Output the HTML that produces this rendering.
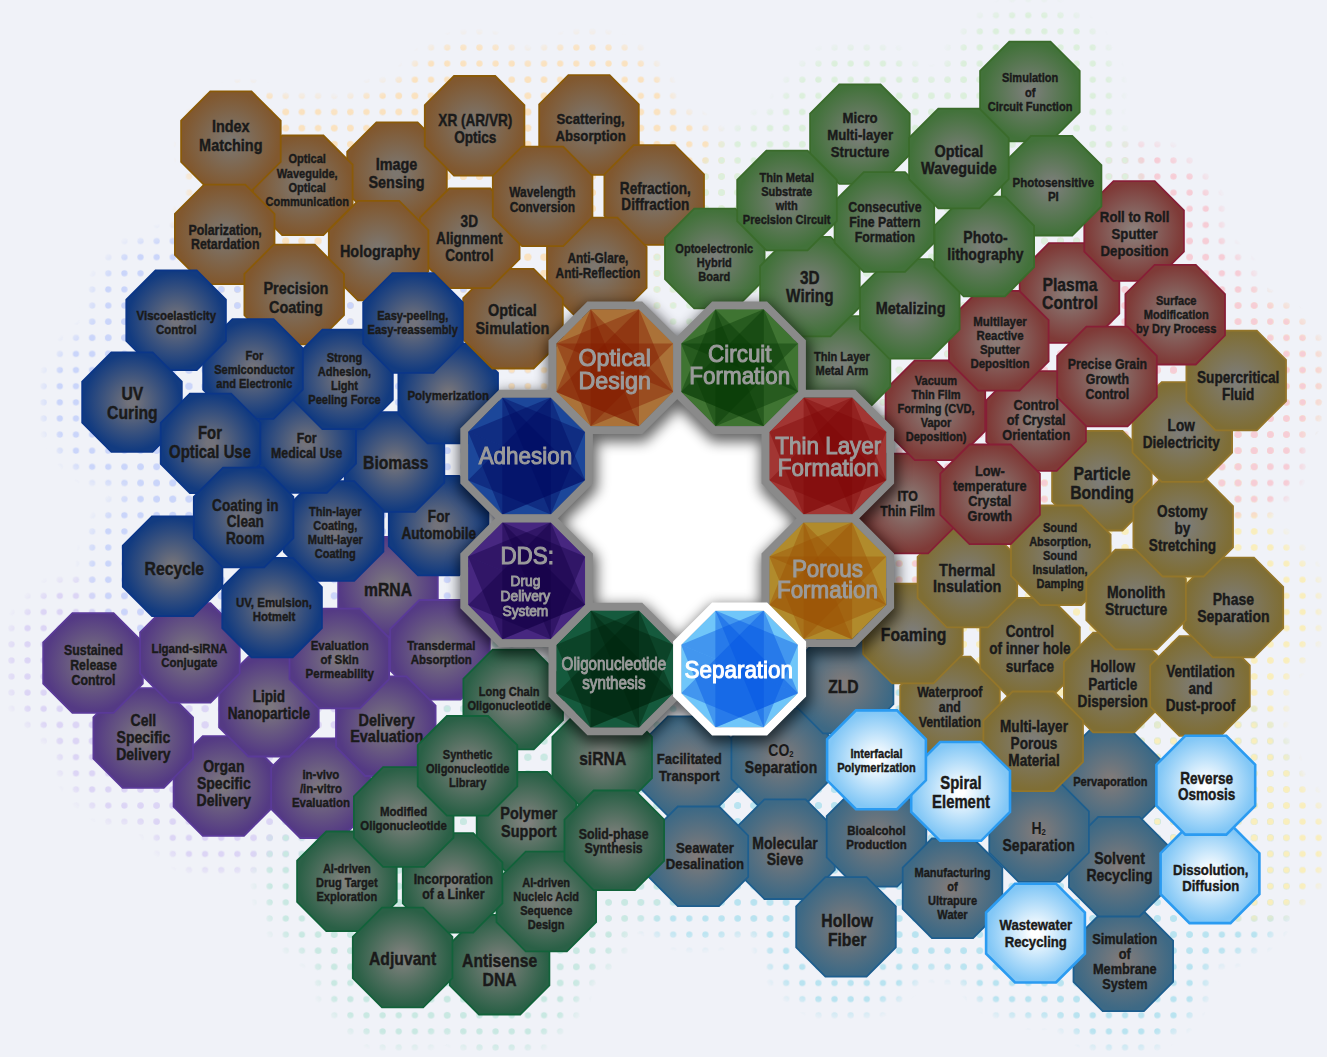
<!DOCTYPE html><html><head><meta charset="utf-8"><title>Technology map</title>
<style>html,body{margin:0;padding:0;background:#f0f2f8;}svg{display:block}text{font-family:"Liberation Sans",sans-serif;font-weight:bold}</style></head><body>
<svg width="1327" height="1057" viewBox="0 0 1327 1057">
<defs>
<radialGradient id="gO" cx="0.5" cy="0.5" r="0.5"><stop offset="0" stop-color="#7c766f"/><stop offset="0.08" stop-color="#7c766f"/><stop offset="0.97" stop-color="#81582f"/><stop offset="1" stop-color="#81582f"/></radialGradient>
<radialGradient id="gG" cx="0.5" cy="0.5" r="0.5"><stop offset="0" stop-color="#7a7e78"/><stop offset="0.08" stop-color="#7a7e78"/><stop offset="0.97" stop-color="#42723a"/><stop offset="1" stop-color="#42723a"/></radialGradient>
<radialGradient id="gR" cx="0.5" cy="0.5" r="0.5"><stop offset="0" stop-color="#8a7d78"/><stop offset="0.08" stop-color="#8a7d78"/><stop offset="0.97" stop-color="#7f3a37"/><stop offset="1" stop-color="#7f3a37"/></radialGradient>
<radialGradient id="gY" cx="0.5" cy="0.5" r="0.5"><stop offset="0" stop-color="#7d7c77"/><stop offset="0.08" stop-color="#7d7c77"/><stop offset="0.97" stop-color="#7f6e35"/><stop offset="1" stop-color="#7f6e35"/></radialGradient>
<radialGradient id="gS" cx="0.5" cy="0.5" r="0.5"><stop offset="0" stop-color="#7e7a7a"/><stop offset="0.08" stop-color="#7e7a7a"/><stop offset="0.97" stop-color="#3d6985"/><stop offset="1" stop-color="#3d6985"/></radialGradient>
<radialGradient id="gD" cx="0.5" cy="0.5" r="0.5"><stop offset="0" stop-color="#7e807c"/><stop offset="0.08" stop-color="#7e807c"/><stop offset="0.97" stop-color="#2a6046"/><stop offset="1" stop-color="#2a6046"/></radialGradient>
<radialGradient id="gP" cx="0.5" cy="0.5" r="0.5"><stop offset="0" stop-color="#7b767e"/><stop offset="0.08" stop-color="#7b767e"/><stop offset="0.97" stop-color="#543a84"/><stop offset="1" stop-color="#543a84"/></radialGradient>
<radialGradient id="gB" cx="0.5" cy="0.5" r="0.5"><stop offset="0" stop-color="#72727a"/><stop offset="0.08" stop-color="#72727a"/><stop offset="0.97" stop-color="#123b80"/><stop offset="1" stop-color="#123b80"/></radialGradient>
<radialGradient id="gH" cx="0.5" cy="0.5" r="0.5"><stop offset="0" stop-color="#ffffff"/><stop offset="0.08" stop-color="#ffffff"/><stop offset="0.97" stop-color="#82c7f6"/><stop offset="1" stop-color="#82c7f6"/></radialGradient>
<filter id="blur40" x="-30%" y="-30%" width="160%" height="160%"><feGaussianBlur stdDeviation="40"/></filter>
<filter id="blur8" x="-30%" y="-30%" width="160%" height="160%"><feGaussianBlur stdDeviation="6.5"/></filter>
<filter id="sh" x="-30%" y="-30%" width="160%" height="160%"><feGaussianBlur stdDeviation="6.5"/></filter>
<pattern id="dO" x="3.33" y="7.13" width="16.14" height="16.13" patternUnits="userSpaceOnUse"><circle cx="8.07" cy="8.06" r="3.1" fill="#fae2c0"/></pattern>
<pattern id="dG" x="3.33" y="7.13" width="16.14" height="16.13" patternUnits="userSpaceOnUse"><circle cx="8.07" cy="8.06" r="3.1" fill="#dcefdc"/></pattern>
<pattern id="dR" x="3.33" y="7.13" width="16.14" height="16.13" patternUnits="userSpaceOnUse"><circle cx="8.07" cy="8.06" r="3.1" fill="#f6cdd6"/></pattern>
<pattern id="dY" x="3.33" y="7.13" width="16.14" height="16.13" patternUnits="userSpaceOnUse"><circle cx="8.07" cy="8.06" r="3.1" fill="#f9eebd"/></pattern>
<pattern id="dS" x="3.33" y="7.13" width="16.14" height="16.13" patternUnits="userSpaceOnUse"><circle cx="8.07" cy="8.06" r="3.1" fill="#b9e3f0"/></pattern>
<pattern id="dD" x="3.33" y="7.13" width="16.14" height="16.13" patternUnits="userSpaceOnUse"><circle cx="8.07" cy="8.06" r="3.1" fill="#c9e8e2"/></pattern>
<pattern id="dP" x="3.33" y="7.13" width="16.14" height="16.13" patternUnits="userSpaceOnUse"><circle cx="8.07" cy="8.06" r="3.1" fill="#dcd5f5"/></pattern>
<pattern id="dB" x="3.33" y="7.13" width="16.14" height="16.13" patternUnits="userSpaceOnUse"><circle cx="8.07" cy="8.06" r="3.1" fill="#cad5fa"/></pattern>
<radialGradient id="halo" cx="0.5" cy="0.5" r="0.5"><stop offset="0.78" stop-color="#fff" stop-opacity="1"/><stop offset="1" stop-color="#fff" stop-opacity="0"/></radialGradient>
<mask id="hm" maskContentUnits="objectBoundingBox" x="0" y="0" width="1" height="1"><rect width="1" height="1" fill="url(#halo)"/></mask>
</defs>
<rect width="1327" height="1057" fill="#f0f2f8"/>
<circle cx="397" cy="172" r="98" fill="url(#dO)" mask="url(#hm)"/>
<circle cx="303" cy="185" r="98" fill="url(#dO)" mask="url(#hm)"/>
<circle cx="245" cy="150" r="72" fill="url(#dO)" mask="url(#hm)"/>
<circle cx="240" cy="232" r="72" fill="url(#dO)" mask="url(#hm)"/>
<circle cx="475" cy="126" r="98" fill="url(#dO)" mask="url(#hm)"/>
<circle cx="589" cy="125" r="98" fill="url(#dO)" mask="url(#hm)"/>
<circle cx="654" cy="195" r="98" fill="url(#dO)" mask="url(#hm)"/>
<circle cx="597" cy="267" r="98" fill="url(#dO)" mask="url(#hm)"/>
<circle cx="715" cy="258" r="98" fill="url(#dG)" mask="url(#hm)"/>
<circle cx="860" cy="134" r="98" fill="url(#dG)" mask="url(#hm)"/>
<circle cx="1030" cy="92" r="98" fill="url(#dG)" mask="url(#hm)"/>
<circle cx="1070" cy="293" r="98" fill="url(#dR)" mask="url(#hm)"/>
<circle cx="1134" cy="231" r="98" fill="url(#dR)" mask="url(#hm)"/>
<circle cx="1052" cy="186" r="98" fill="url(#dG)" mask="url(#hm)"/>
<circle cx="1102" cy="481" r="98" fill="url(#dY)" mask="url(#hm)"/>
<circle cx="1036" cy="421" r="98" fill="url(#dR)" mask="url(#hm)"/>
<circle cx="950" cy="706" r="98" fill="url(#dY)" mask="url(#hm)"/>
<circle cx="1030" cy="648" r="98" fill="url(#dY)" mask="url(#hm)"/>
<circle cx="689" cy="766" r="98" fill="url(#dS)" mask="url(#hm)"/>
<circle cx="781" cy="758" r="98" fill="url(#dS)" mask="url(#hm)"/>
<circle cx="844" cy="684" r="98" fill="url(#dS)" mask="url(#hm)"/>
<circle cx="913" cy="634" r="98" fill="url(#dY)" mask="url(#hm)"/>
<circle cx="967" cy="578" r="98" fill="url(#dY)" mask="url(#hm)"/>
<circle cx="908" cy="504" r="98" fill="url(#dR)" mask="url(#hm)"/>
<circle cx="935" cy="410" r="98" fill="url(#dR)" mask="url(#hm)"/>
<circle cx="840" cy="366" r="98" fill="url(#dG)" mask="url(#hm)"/>
<circle cx="999" cy="341" r="98" fill="url(#dR)" mask="url(#hm)"/>
<circle cx="910" cy="309" r="98" fill="url(#dG)" mask="url(#hm)"/>
<circle cx="810" cy="287" r="98" fill="url(#dG)" mask="url(#hm)"/>
<circle cx="884" cy="222" r="98" fill="url(#dG)" mask="url(#hm)"/>
<circle cx="787" cy="200" r="98" fill="url(#dG)" mask="url(#hm)"/>
<circle cx="984" cy="246" r="98" fill="url(#dG)" mask="url(#hm)"/>
<circle cx="959" cy="158" r="98" fill="url(#dG)" mask="url(#hm)"/>
<circle cx="1061" cy="555" r="98" fill="url(#dY)" mask="url(#hm)"/>
<circle cx="990" cy="494" r="98" fill="url(#dR)" mask="url(#hm)"/>
<circle cx="785" cy="849" r="98" fill="url(#dS)" mask="url(#hm)"/>
<circle cx="698" cy="856" r="98" fill="url(#dS)" mask="url(#hm)"/>
<circle cx="876" cy="837" r="98" fill="url(#dS)" mask="url(#hm)"/>
<circle cx="846" cy="927" r="98" fill="url(#dS)" mask="url(#hm)"/>
<circle cx="952" cy="888" r="98" fill="url(#dS)" mask="url(#hm)"/>
<circle cx="1110" cy="780" r="98" fill="url(#dS)" mask="url(#hm)"/>
<circle cx="1114" cy="682" r="98" fill="url(#dY)" mask="url(#hm)"/>
<circle cx="1200" cy="686" r="98" fill="url(#dY)" mask="url(#hm)"/>
<circle cx="1233" cy="608" r="98" fill="url(#dY)" mask="url(#hm)"/>
<circle cx="1136" cy="600" r="98" fill="url(#dY)" mask="url(#hm)"/>
<circle cx="1183" cy="527" r="98" fill="url(#dY)" mask="url(#hm)"/>
<circle cx="1182" cy="432" r="98" fill="url(#dY)" mask="url(#hm)"/>
<circle cx="1236" cy="380" r="98" fill="url(#dY)" mask="url(#hm)"/>
<circle cx="1175" cy="315" r="98" fill="url(#dR)" mask="url(#hm)"/>
<circle cx="1107" cy="376" r="98" fill="url(#dR)" mask="url(#hm)"/>
<circle cx="1123" cy="961" r="98" fill="url(#dS)" mask="url(#hm)"/>
<circle cx="1119" cy="867" r="98" fill="url(#dS)" mask="url(#hm)"/>
<circle cx="1039" cy="832" r="98" fill="url(#dS)" mask="url(#hm)"/>
<circle cx="1033" cy="741" r="98" fill="url(#dY)" mask="url(#hm)"/>
<circle cx="961" cy="791" r="98" fill="url(#dS)" mask="url(#hm)"/>
<circle cx="876" cy="760" r="98" fill="url(#dS)" mask="url(#hm)"/>
<circle cx="1036" cy="933" r="98" fill="url(#dS)" mask="url(#hm)"/>
<circle cx="1210" cy="874" r="98" fill="url(#dS)" mask="url(#hm)"/>
<circle cx="1206" cy="785" r="98" fill="url(#dS)" mask="url(#hm)"/>
<circle cx="526" cy="822" r="98" fill="url(#dD)" mask="url(#hm)"/>
<circle cx="602" cy="758" r="98" fill="url(#dD)" mask="url(#hm)"/>
<circle cx="500" cy="965" r="98" fill="url(#dD)" mask="url(#hm)"/>
<circle cx="546" cy="902" r="98" fill="url(#dD)" mask="url(#hm)"/>
<circle cx="614" cy="840" r="98" fill="url(#dD)" mask="url(#hm)"/>
<circle cx="453" cy="883" r="98" fill="url(#dD)" mask="url(#hm)"/>
<circle cx="388" cy="587" r="98" fill="url(#dP)" mask="url(#hm)"/>
<circle cx="440" cy="650" r="98" fill="url(#dP)" mask="url(#hm)"/>
<circle cx="513" cy="700" r="98" fill="url(#dD)" mask="url(#hm)"/>
<circle cx="223" cy="786" r="98" fill="url(#dP)" mask="url(#hm)"/>
<circle cx="143" cy="738" r="98" fill="url(#dP)" mask="url(#hm)"/>
<circle cx="93" cy="663" r="98" fill="url(#dP)" mask="url(#hm)"/>
<circle cx="321" cy="788" r="98" fill="url(#dP)" mask="url(#hm)"/>
<circle cx="347" cy="881" r="98" fill="url(#dD)" mask="url(#hm)"/>
<circle cx="403" cy="958" r="98" fill="url(#dD)" mask="url(#hm)"/>
<circle cx="269" cy="707" r="98" fill="url(#dP)" mask="url(#hm)"/>
<circle cx="190" cy="653" r="98" fill="url(#dP)" mask="url(#hm)"/>
<circle cx="386" cy="726" r="98" fill="url(#dP)" mask="url(#hm)"/>
<circle cx="404" cy="817" r="98" fill="url(#dD)" mask="url(#hm)"/>
<circle cx="468" cy="766" r="98" fill="url(#dD)" mask="url(#hm)"/>
<circle cx="339" cy="658" r="98" fill="url(#dP)" mask="url(#hm)"/>
<circle cx="439" cy="526" r="98" fill="url(#dB)" mask="url(#hm)"/>
<circle cx="394" cy="462" r="98" fill="url(#dB)" mask="url(#hm)"/>
<circle cx="448" cy="394" r="98" fill="url(#dB)" mask="url(#hm)"/>
<circle cx="513" cy="319" r="98" fill="url(#dO)" mask="url(#hm)"/>
<circle cx="470" cy="238" r="98" fill="url(#dO)" mask="url(#hm)"/>
<circle cx="379" cy="251" r="98" fill="url(#dO)" mask="url(#hm)"/>
<circle cx="294" cy="294" r="98" fill="url(#dO)" mask="url(#hm)"/>
<circle cx="543" cy="196" r="98" fill="url(#dO)" mask="url(#hm)"/>
<circle cx="334" cy="531" r="98" fill="url(#dB)" mask="url(#hm)"/>
<circle cx="306" cy="443" r="98" fill="url(#dB)" mask="url(#hm)"/>
<circle cx="343" cy="379" r="98" fill="url(#dB)" mask="url(#hm)"/>
<circle cx="253" cy="369" r="98" fill="url(#dB)" mask="url(#hm)"/>
<circle cx="176" cy="320" r="98" fill="url(#dB)" mask="url(#hm)"/>
<circle cx="132" cy="402" r="98" fill="url(#dB)" mask="url(#hm)"/>
<circle cx="413" cy="323" r="98" fill="url(#dB)" mask="url(#hm)"/>
<circle cx="210" cy="443" r="98" fill="url(#dB)" mask="url(#hm)"/>
<circle cx="173" cy="566" r="98" fill="url(#dB)" mask="url(#hm)"/>
<circle cx="272" cy="608" r="98" fill="url(#dB)" mask="url(#hm)"/>
<circle cx="244" cy="518" r="98" fill="url(#dB)" mask="url(#hm)"/>
<circle cx="1210" cy="790" r="98" fill="url(#dY)" mask="url(#hm)"/>
<circle cx="1248" cy="842" r="90" fill="url(#dY)" mask="url(#hm)"/>
<circle cx="1236" cy="380" r="98" fill="url(#dR)" mask="url(#hm)"/>
<circle cx="1190" cy="432" r="98" fill="url(#dR)" mask="url(#hm)"/>
<circle cx="1240" cy="452" r="72" fill="url(#dR)" mask="url(#hm)"/>
<polygon points="376.4,122.4 417.6,122.4 446.8,151.6 446.8,192.8 417.6,222.0 376.4,222.0 347.2,192.8 347.2,151.6" fill="url(#gO)" stroke="#8a5a08" stroke-width="1.8" stroke-linejoin="miter"/>
<text transform="translate(396.5 169.6) scale(0.850 1)" text-anchor="middle" font-size="17.0" fill="#1a1a1a" stroke="#1a1a1a" stroke-width="0.42">Image</text><text transform="translate(396.5 188.4) scale(0.850 1)" text-anchor="middle" font-size="17.0" fill="#1a1a1a" stroke="#1a1a1a" stroke-width="0.42">Sensing</text>
<polygon points="282.2,135.5 323.4,135.5 352.6,164.7 352.6,205.9 323.4,235.1 282.2,235.1 253.0,205.9 253.0,164.7" fill="url(#gO)" stroke="#8a5a08" stroke-width="1.8" stroke-linejoin="miter"/>
<text transform="translate(307.2 163.4) scale(0.850 1)" text-anchor="middle" font-size="13.0" fill="#1a1a1a" stroke="#1a1a1a" stroke-width="0.42">Optical</text><text transform="translate(307.2 177.5) scale(0.850 1)" text-anchor="middle" font-size="13.0" fill="#1a1a1a" stroke="#1a1a1a" stroke-width="0.42">Waveguide,</text><text transform="translate(307.2 191.6) scale(0.850 1)" text-anchor="middle" font-size="13.0" fill="#1a1a1a" stroke="#1a1a1a" stroke-width="0.42">Optical</text><text transform="translate(307.2 205.7) scale(0.850 1)" text-anchor="middle" font-size="13.0" fill="#1a1a1a" stroke="#1a1a1a" stroke-width="0.42">Communication</text>
<polygon points="210.3,91.4 251.5,91.4 280.7,120.6 280.7,161.8 251.5,191.0 210.3,191.0 181.1,161.8 181.1,120.6" fill="url(#gO)" stroke="#8a5a08" stroke-width="1.8" stroke-linejoin="miter"/>
<text transform="translate(230.8 132.1) scale(0.850 1)" text-anchor="middle" font-size="17.0" fill="#1a1a1a" stroke="#1a1a1a" stroke-width="0.42">Index</text><text transform="translate(230.8 150.9) scale(0.850 1)" text-anchor="middle" font-size="17.0" fill="#1a1a1a" stroke="#1a1a1a" stroke-width="0.42">Matching</text>
<polygon points="204.1,184.6 245.3,184.6 274.5,213.8 274.5,255.0 245.3,284.2 204.1,284.2 174.9,255.0 174.9,213.8" fill="url(#gO)" stroke="#8a5a08" stroke-width="1.8" stroke-linejoin="miter"/>
<text transform="translate(225.2 234.9) scale(0.850 1)" text-anchor="middle" font-size="14.5" fill="#1a1a1a" stroke="#1a1a1a" stroke-width="0.42">Polarization,</text><text transform="translate(225.2 249.4) scale(0.850 1)" text-anchor="middle" font-size="14.5" fill="#1a1a1a" stroke="#1a1a1a" stroke-width="0.42">Retardation</text>
<polygon points="454.0,76.0 495.2,76.0 524.4,105.2 524.4,146.4 495.2,175.6 454.0,175.6 424.8,146.4 424.8,105.2" fill="url(#gO)" stroke="#8a5a08" stroke-width="1.8" stroke-linejoin="miter"/>
<text transform="translate(475.3 125.6) scale(0.850 1)" text-anchor="middle" font-size="16.0" fill="#1a1a1a" stroke="#1a1a1a" stroke-width="0.42">XR (AR/VR)</text><text transform="translate(475.3 143.4) scale(0.850 1)" text-anchor="middle" font-size="16.0" fill="#1a1a1a" stroke="#1a1a1a" stroke-width="0.42">Optics</text>
<polygon points="568.4,75.2 609.6,75.2 638.8,104.4 638.8,145.6 609.6,174.8 568.4,174.8 539.2,145.6 539.2,104.4" fill="url(#gO)" stroke="#8a5a08" stroke-width="1.8" stroke-linejoin="miter"/>
<text transform="translate(590.6 124.4) scale(0.850 1)" text-anchor="middle" font-size="15.5" fill="#1a1a1a" stroke="#1a1a1a" stroke-width="0.42">Scattering,</text><text transform="translate(590.6 141.0) scale(0.850 1)" text-anchor="middle" font-size="15.5" fill="#1a1a1a" stroke="#1a1a1a" stroke-width="0.42">Absorption</text>
<polygon points="633.6,145.2 674.8,145.2 704.0,174.4 704.0,215.6 674.8,244.8 633.6,244.8 604.4,215.6 604.4,174.4" fill="url(#gO)" stroke="#8a5a08" stroke-width="1.8" stroke-linejoin="miter"/>
<text transform="translate(655.3 193.5) scale(0.850 1)" text-anchor="middle" font-size="16.0" fill="#1a1a1a" stroke="#1a1a1a" stroke-width="0.42">Refraction,</text><text transform="translate(655.3 210.0) scale(0.850 1)" text-anchor="middle" font-size="16.0" fill="#1a1a1a" stroke="#1a1a1a" stroke-width="0.42">Diffraction</text>
<polygon points="576.2,217.6 617.4,217.6 646.6,246.8 646.6,288.0 617.4,317.2 576.2,317.2 547.0,288.0 547.0,246.8" fill="url(#gO)" stroke="#8a5a08" stroke-width="1.8" stroke-linejoin="miter"/>
<text transform="translate(597.9 263.2) scale(0.850 1)" text-anchor="middle" font-size="14.0" fill="#1a1a1a" stroke="#1a1a1a" stroke-width="0.42">Anti-Glare,</text><text transform="translate(597.9 278.0) scale(0.850 1)" text-anchor="middle" font-size="14.0" fill="#1a1a1a" stroke="#1a1a1a" stroke-width="0.42">Anti-Reflection</text>
<polygon points="694.2,208.7 735.4,208.7 764.6,237.9 764.6,279.1 735.4,308.3 694.2,308.3 665.0,279.1 665.0,237.9" fill="url(#gG)" stroke="#3a6b2b" stroke-width="1.8" stroke-linejoin="miter"/>
<text transform="translate(714.3 252.6) scale(0.850 1)" text-anchor="middle" font-size="13.0" fill="#1a1a1a" stroke="#1a1a1a" stroke-width="0.42">Optoelectronic</text><text transform="translate(714.3 266.7) scale(0.850 1)" text-anchor="middle" font-size="13.0" fill="#1a1a1a" stroke="#1a1a1a" stroke-width="0.42">Hybrid</text><text transform="translate(714.3 280.8) scale(0.850 1)" text-anchor="middle" font-size="13.0" fill="#1a1a1a" stroke="#1a1a1a" stroke-width="0.42">Board</text>
<polygon points="839.3,84.3 880.5,84.3 909.7,113.5 909.7,154.7 880.5,183.9 839.3,183.9 810.1,154.7 810.1,113.5" fill="url(#gG)" stroke="#3a6b2b" stroke-width="1.8" stroke-linejoin="miter"/>
<text transform="translate(860.1 122.5) scale(0.850 1)" text-anchor="middle" font-size="15.5" fill="#1a1a1a" stroke="#1a1a1a" stroke-width="0.42">Micro</text><text transform="translate(860.1 139.7) scale(0.850 1)" text-anchor="middle" font-size="15.5" fill="#1a1a1a" stroke="#1a1a1a" stroke-width="0.42">Multi-layer</text><text transform="translate(860.1 156.9) scale(0.850 1)" text-anchor="middle" font-size="15.5" fill="#1a1a1a" stroke="#1a1a1a" stroke-width="0.42">Structure</text>
<polygon points="1009.3,41.7 1050.5,41.7 1079.7,70.9 1079.7,112.1 1050.5,141.3 1009.3,141.3 980.1,112.1 980.1,70.9" fill="url(#gG)" stroke="#3a6b2b" stroke-width="1.8" stroke-linejoin="miter"/>
<text transform="translate(1030.1 82.4) scale(0.850 1)" text-anchor="middle" font-size="13.0" fill="#1a1a1a" stroke="#1a1a1a" stroke-width="0.42">Simulation</text><text transform="translate(1030.1 96.5) scale(0.850 1)" text-anchor="middle" font-size="13.0" fill="#1a1a1a" stroke="#1a1a1a" stroke-width="0.42">of</text><text transform="translate(1030.1 110.6) scale(0.850 1)" text-anchor="middle" font-size="13.0" fill="#1a1a1a" stroke="#1a1a1a" stroke-width="0.42">Circuit Function</text>
<polygon points="1048.9,243.2 1090.1,243.2 1119.3,272.4 1119.3,313.6 1090.1,342.8 1048.9,342.8 1019.7,313.6 1019.7,272.4" fill="url(#gR)" stroke="#871f36" stroke-width="1.8" stroke-linejoin="miter"/>
<text transform="translate(1070.0 290.8) scale(0.850 1)" text-anchor="middle" font-size="18.5" fill="#1a1a1a" stroke="#1a1a1a" stroke-width="0.42">Plasma</text><text transform="translate(1070.0 309.4) scale(0.850 1)" text-anchor="middle" font-size="18.5" fill="#1a1a1a" stroke="#1a1a1a" stroke-width="0.42">Control</text>
<polygon points="1113.5,181.2 1154.7,181.2 1183.9,210.4 1183.9,251.6 1154.7,280.8 1113.5,280.8 1084.3,251.6 1084.3,210.4" fill="url(#gR)" stroke="#871f36" stroke-width="1.8" stroke-linejoin="miter"/>
<text transform="translate(1134.6 221.6) scale(0.850 1)" text-anchor="middle" font-size="15.5" fill="#1a1a1a" stroke="#1a1a1a" stroke-width="0.42">Roll to Roll</text><text transform="translate(1134.6 238.6) scale(0.850 1)" text-anchor="middle" font-size="15.5" fill="#1a1a1a" stroke="#1a1a1a" stroke-width="0.42">Sputter</text><text transform="translate(1134.6 255.6) scale(0.850 1)" text-anchor="middle" font-size="15.5" fill="#1a1a1a" stroke="#1a1a1a" stroke-width="0.42">Deposition</text>
<polygon points="1031.0,135.9 1072.2,135.9 1101.4,165.1 1101.4,206.3 1072.2,235.5 1031.0,235.5 1001.8,206.3 1001.8,165.1" fill="url(#gG)" stroke="#3a6b2b" stroke-width="1.8" stroke-linejoin="miter"/>
<text transform="translate(1053.3 186.9) scale(0.850 1)" text-anchor="middle" font-size="13.5" fill="#1a1a1a" stroke="#1a1a1a" stroke-width="0.42">Photosensitive</text><text transform="translate(1053.3 200.5) scale(0.850 1)" text-anchor="middle" font-size="13.5" fill="#1a1a1a" stroke="#1a1a1a" stroke-width="0.42">PI</text>
<polygon points="1081.3,430.9 1122.5,430.9 1151.7,460.1 1151.7,501.3 1122.5,530.5 1081.3,530.5 1052.1,501.3 1052.1,460.1" fill="url(#gY)" stroke="#94762a" stroke-width="1.8" stroke-linejoin="miter"/>
<text transform="translate(1102.0 479.9) scale(0.850 1)" text-anchor="middle" font-size="18.5" fill="#1a1a1a" stroke="#1a1a1a" stroke-width="0.42">Particle</text><text transform="translate(1102.0 498.5) scale(0.850 1)" text-anchor="middle" font-size="18.5" fill="#1a1a1a" stroke="#1a1a1a" stroke-width="0.42">Bonding</text>
<polygon points="1015.5,371.2 1056.7,371.2 1085.9,400.4 1085.9,441.6 1056.7,470.8 1015.5,470.8 986.3,441.6 986.3,400.4" fill="url(#gR)" stroke="#871f36" stroke-width="1.8" stroke-linejoin="miter"/>
<text transform="translate(1036.2 409.8) scale(0.850 1)" text-anchor="middle" font-size="15.0" fill="#1a1a1a" stroke="#1a1a1a" stroke-width="0.42">Control</text><text transform="translate(1036.2 424.9) scale(0.850 1)" text-anchor="middle" font-size="15.0" fill="#1a1a1a" stroke="#1a1a1a" stroke-width="0.42">of Crystal</text><text transform="translate(1036.2 440.0) scale(0.850 1)" text-anchor="middle" font-size="15.0" fill="#1a1a1a" stroke="#1a1a1a" stroke-width="0.42">Orientation</text>
<polygon points="929.4,656.7 970.6,656.7 999.8,685.9 999.8,727.1 970.6,756.3 929.4,756.3 900.2,727.1 900.2,685.9" fill="url(#gY)" stroke="#94762a" stroke-width="1.8" stroke-linejoin="miter"/>
<text transform="translate(949.8 696.6) scale(0.850 1)" text-anchor="middle" font-size="14.5" fill="#1a1a1a" stroke="#1a1a1a" stroke-width="0.42">Waterproof</text><text transform="translate(949.8 711.6) scale(0.850 1)" text-anchor="middle" font-size="14.5" fill="#1a1a1a" stroke="#1a1a1a" stroke-width="0.42">and</text><text transform="translate(949.8 726.6) scale(0.850 1)" text-anchor="middle" font-size="14.5" fill="#1a1a1a" stroke="#1a1a1a" stroke-width="0.42">Ventilation</text>
<polygon points="1009.4,598.0 1050.6,598.0 1079.8,627.2 1079.8,668.4 1050.6,697.6 1009.4,697.6 980.2,668.4 980.2,627.2" fill="url(#gY)" stroke="#94762a" stroke-width="1.8" stroke-linejoin="miter"/>
<text transform="translate(1029.9 637.1) scale(0.850 1)" text-anchor="middle" font-size="16.0" fill="#1a1a1a" stroke="#1a1a1a" stroke-width="0.42">Control</text><text transform="translate(1029.9 654.3) scale(0.850 1)" text-anchor="middle" font-size="16.0" fill="#1a1a1a" stroke="#1a1a1a" stroke-width="0.42">of inner hole</text><text transform="translate(1029.9 671.5) scale(0.850 1)" text-anchor="middle" font-size="16.0" fill="#1a1a1a" stroke="#1a1a1a" stroke-width="0.42">surface</text>
<polygon points="668.0,716.3 709.2,716.3 738.4,745.5 738.4,786.7 709.2,815.9 668.0,815.9 638.8,786.7 638.8,745.5" fill="url(#gS)" stroke="#1e5e8e" stroke-width="1.8" stroke-linejoin="miter"/>
<text transform="translate(689.3 764.1) scale(0.850 1)" text-anchor="middle" font-size="15.5" fill="#1a1a1a" stroke="#1a1a1a" stroke-width="0.42">Facilitated</text><text transform="translate(689.3 780.7) scale(0.850 1)" text-anchor="middle" font-size="15.5" fill="#1a1a1a" stroke="#1a1a1a" stroke-width="0.42">Transport</text>
<polygon points="760.6,708.4 801.8,708.4 831.0,737.6 831.0,778.8 801.8,808.0 760.6,808.0 731.4,778.8 731.4,737.6" fill="url(#gS)" stroke="#1e5e8e" stroke-width="1.8" stroke-linejoin="miter"/>
<text transform="translate(781.0 756.1) scale(0.850 1)" text-anchor="middle" font-size="16.5" fill="#1a1a1a">CO<tspan font-size="9.1" dy="1">2</tspan></text><text transform="translate(781.0 772.9) scale(0.850 1)" text-anchor="middle" font-size="16.5" fill="#1a1a1a" stroke="#1a1a1a" stroke-width="0.42">Separation</text>
<polygon points="823.0,633.8 864.2,633.8 893.4,663.0 893.4,704.2 864.2,733.4 823.0,733.4 793.8,704.2 793.8,663.0" fill="url(#gS)" stroke="#1e5e8e" stroke-width="1.8" stroke-linejoin="miter"/>
<text transform="translate(843.4 692.8) scale(0.850 1)" text-anchor="middle" font-size="18.5" fill="#1a1a1a" stroke="#1a1a1a" stroke-width="0.42">ZLD</text>
<polygon points="892.3,583.7 933.5,583.7 962.7,612.9 962.7,654.1 933.5,683.3 892.3,683.3 863.1,654.1 863.1,612.9" fill="url(#gY)" stroke="#94762a" stroke-width="1.8" stroke-linejoin="miter"/>
<text transform="translate(913.6 640.7) scale(0.850 1)" text-anchor="middle" font-size="18.5" fill="#1a1a1a" stroke="#1a1a1a" stroke-width="0.42">Foaming</text>
<polygon points="946.8,527.7 988.0,527.7 1017.2,556.9 1017.2,598.1 988.0,627.3 946.8,627.3 917.6,598.1 917.6,556.9" fill="url(#gY)" stroke="#94762a" stroke-width="1.8" stroke-linejoin="miter"/>
<text transform="translate(967.2 575.5) scale(0.850 1)" text-anchor="middle" font-size="17.0" fill="#1a1a1a" stroke="#1a1a1a" stroke-width="0.42">Thermal</text><text transform="translate(967.2 592.4) scale(0.850 1)" text-anchor="middle" font-size="17.0" fill="#1a1a1a" stroke="#1a1a1a" stroke-width="0.42">Insulation</text>
<polygon points="886.9,453.7 928.1,453.7 957.3,482.9 957.3,524.1 928.1,553.3 886.9,553.3 857.7,524.1 857.7,482.9" fill="url(#gR)" stroke="#871f36" stroke-width="1.8" stroke-linejoin="miter"/>
<text transform="translate(907.6 501.1) scale(0.850 1)" text-anchor="middle" font-size="14.5" fill="#1a1a1a" stroke="#1a1a1a" stroke-width="0.42">ITO</text><text transform="translate(907.6 516.1) scale(0.850 1)" text-anchor="middle" font-size="14.5" fill="#1a1a1a" stroke="#1a1a1a" stroke-width="0.42">Thin Film</text>
<polygon points="914.8,360.5 956.0,360.5 985.2,389.7 985.2,430.9 956.0,460.1 914.8,460.1 885.6,430.9 885.6,389.7" fill="url(#gR)" stroke="#871f36" stroke-width="1.8" stroke-linejoin="miter"/>
<text transform="translate(936.0 385.4) scale(0.850 1)" text-anchor="middle" font-size="13.0" fill="#1a1a1a" stroke="#1a1a1a" stroke-width="0.42">Vacuum</text><text transform="translate(936.0 399.4) scale(0.850 1)" text-anchor="middle" font-size="13.0" fill="#1a1a1a" stroke="#1a1a1a" stroke-width="0.42">Thin Film</text><text transform="translate(936.0 413.4) scale(0.850 1)" text-anchor="middle" font-size="13.0" fill="#1a1a1a" stroke="#1a1a1a" stroke-width="0.42">Forming (CVD,</text><text transform="translate(936.0 427.4) scale(0.850 1)" text-anchor="middle" font-size="13.0" fill="#1a1a1a" stroke="#1a1a1a" stroke-width="0.42">Vapor</text><text transform="translate(936.0 441.4) scale(0.850 1)" text-anchor="middle" font-size="13.0" fill="#1a1a1a" stroke="#1a1a1a" stroke-width="0.42">Deposition)</text>
<polygon points="819.9,316.2 861.1,316.2 890.3,345.4 890.3,386.6 861.1,415.8 819.9,415.8 790.7,386.6 790.7,345.4" fill="url(#gG)" stroke="#3a6b2b" stroke-width="1.8" stroke-linejoin="miter"/>
<text transform="translate(841.9 360.9) scale(0.850 1)" text-anchor="middle" font-size="13.0" fill="#1a1a1a" stroke="#1a1a1a" stroke-width="0.42">Thin Layer</text><text transform="translate(841.9 374.7) scale(0.850 1)" text-anchor="middle" font-size="13.0" fill="#1a1a1a" stroke="#1a1a1a" stroke-width="0.42">Metal Arm</text>
<polygon points="978.2,291.0 1019.4,291.0 1048.6,320.2 1048.6,361.4 1019.4,390.6 978.2,390.6 949.0,361.4 949.0,320.2" fill="url(#gR)" stroke="#871f36" stroke-width="1.8" stroke-linejoin="miter"/>
<text transform="translate(1000.0 325.9) scale(0.850 1)" text-anchor="middle" font-size="13.5" fill="#1a1a1a" stroke="#1a1a1a" stroke-width="0.42">Multilayer</text><text transform="translate(1000.0 340.0) scale(0.850 1)" text-anchor="middle" font-size="13.5" fill="#1a1a1a" stroke="#1a1a1a" stroke-width="0.42">Reactive</text><text transform="translate(1000.0 354.1) scale(0.850 1)" text-anchor="middle" font-size="13.5" fill="#1a1a1a" stroke="#1a1a1a" stroke-width="0.42">Sputter</text><text transform="translate(1000.0 368.2) scale(0.850 1)" text-anchor="middle" font-size="13.5" fill="#1a1a1a" stroke="#1a1a1a" stroke-width="0.42">Deposition</text>
<polygon points="889.2,259.1 930.4,259.1 959.6,288.3 959.6,329.5 930.4,358.7 889.2,358.7 860.0,329.5 860.0,288.3" fill="url(#gG)" stroke="#3a6b2b" stroke-width="1.8" stroke-linejoin="miter"/>
<text transform="translate(910.6 314.3) scale(0.850 1)" text-anchor="middle" font-size="17.0" fill="#1a1a1a" stroke="#1a1a1a" stroke-width="0.42">Metalizing</text>
<polygon points="789.3,236.8 830.5,236.8 859.7,266.0 859.7,307.2 830.5,336.4 789.3,336.4 760.1,307.2 760.1,266.0" fill="url(#gG)" stroke="#3a6b2b" stroke-width="1.8" stroke-linejoin="miter"/>
<text transform="translate(809.8 283.5) scale(0.850 1)" text-anchor="middle" font-size="18.0" fill="#1a1a1a" stroke="#1a1a1a" stroke-width="0.42">3D</text><text transform="translate(809.8 302.0) scale(0.850 1)" text-anchor="middle" font-size="18.0" fill="#1a1a1a" stroke="#1a1a1a" stroke-width="0.42">Wiring</text>
<polygon points="863.8,172.2 905.0,172.2 934.2,201.4 934.2,242.6 905.0,271.8 863.8,271.8 834.6,242.6 834.6,201.4" fill="url(#gG)" stroke="#3a6b2b" stroke-width="1.8" stroke-linejoin="miter"/>
<text transform="translate(884.9 212.1) scale(0.850 1)" text-anchor="middle" font-size="14.5" fill="#1a1a1a" stroke="#1a1a1a" stroke-width="0.42">Consecutive</text><text transform="translate(884.9 227.2) scale(0.850 1)" text-anchor="middle" font-size="14.5" fill="#1a1a1a" stroke="#1a1a1a" stroke-width="0.42">Fine Pattern</text><text transform="translate(884.9 242.3) scale(0.850 1)" text-anchor="middle" font-size="14.5" fill="#1a1a1a" stroke="#1a1a1a" stroke-width="0.42">Formation</text>
<polygon points="766.4,150.7 807.6,150.7 836.8,179.9 836.8,221.1 807.6,250.3 766.4,250.3 737.2,221.1 737.2,179.9" fill="url(#gG)" stroke="#3a6b2b" stroke-width="1.8" stroke-linejoin="miter"/>
<text transform="translate(786.7 181.9) scale(0.850 1)" text-anchor="middle" font-size="13.0" fill="#1a1a1a" stroke="#1a1a1a" stroke-width="0.42">Thin Metal</text><text transform="translate(786.7 196.0) scale(0.850 1)" text-anchor="middle" font-size="13.0" fill="#1a1a1a" stroke="#1a1a1a" stroke-width="0.42">Substrate</text><text transform="translate(786.7 210.1) scale(0.850 1)" text-anchor="middle" font-size="13.0" fill="#1a1a1a" stroke="#1a1a1a" stroke-width="0.42">with</text><text transform="translate(786.7 224.2) scale(0.850 1)" text-anchor="middle" font-size="13.0" fill="#1a1a1a" stroke="#1a1a1a" stroke-width="0.42">Precision Circuit</text>
<polygon points="963.7,196.7 1004.9,196.7 1034.1,225.9 1034.1,267.1 1004.9,296.3 963.7,296.3 934.5,267.1 934.5,225.9" fill="url(#gG)" stroke="#3a6b2b" stroke-width="1.8" stroke-linejoin="miter"/>
<text transform="translate(985.5 242.6) scale(0.850 1)" text-anchor="middle" font-size="16.5" fill="#1a1a1a" stroke="#1a1a1a" stroke-width="0.42">Photo-</text><text transform="translate(985.5 259.5) scale(0.850 1)" text-anchor="middle" font-size="16.5" fill="#1a1a1a" stroke="#1a1a1a" stroke-width="0.42">lithography</text>
<polygon points="938.3,108.7 979.5,108.7 1008.7,137.9 1008.7,179.1 979.5,208.3 938.3,208.3 909.1,179.1 909.1,137.9" fill="url(#gG)" stroke="#3a6b2b" stroke-width="1.8" stroke-linejoin="miter"/>
<text transform="translate(958.9 156.8) scale(0.850 1)" text-anchor="middle" font-size="17.0" fill="#1a1a1a" stroke="#1a1a1a" stroke-width="0.42">Optical</text><text transform="translate(958.9 173.6) scale(0.850 1)" text-anchor="middle" font-size="17.0" fill="#1a1a1a" stroke="#1a1a1a" stroke-width="0.42">Waveguide</text>
<polygon points="1040.2,505.5 1081.4,505.5 1110.6,534.7 1110.6,575.9 1081.4,605.1 1040.2,605.1 1011.0,575.9 1011.0,534.7" fill="url(#gY)" stroke="#94762a" stroke-width="1.8" stroke-linejoin="miter"/>
<text transform="translate(1060.1 531.7) scale(0.850 1)" text-anchor="middle" font-size="13.0" fill="#1a1a1a" stroke="#1a1a1a" stroke-width="0.42">Sound</text><text transform="translate(1060.1 545.9) scale(0.850 1)" text-anchor="middle" font-size="13.0" fill="#1a1a1a" stroke="#1a1a1a" stroke-width="0.42">Absorption,</text><text transform="translate(1060.1 560.0) scale(0.850 1)" text-anchor="middle" font-size="13.0" fill="#1a1a1a" stroke="#1a1a1a" stroke-width="0.42">Sound</text><text transform="translate(1060.1 574.2) scale(0.850 1)" text-anchor="middle" font-size="13.0" fill="#1a1a1a" stroke="#1a1a1a" stroke-width="0.42">Insulation,</text><text transform="translate(1060.1 588.3) scale(0.850 1)" text-anchor="middle" font-size="13.0" fill="#1a1a1a" stroke="#1a1a1a" stroke-width="0.42">Damping</text>
<polygon points="969.5,444.5 1010.7,444.5 1039.9,473.7 1039.9,514.9 1010.7,544.1 969.5,544.1 940.3,514.9 940.3,473.7" fill="url(#gR)" stroke="#871f36" stroke-width="1.8" stroke-linejoin="miter"/>
<text transform="translate(989.8 476.0) scale(0.850 1)" text-anchor="middle" font-size="15.0" fill="#1a1a1a" stroke="#1a1a1a" stroke-width="0.42">Low-</text><text transform="translate(989.8 490.9) scale(0.850 1)" text-anchor="middle" font-size="15.0" fill="#1a1a1a" stroke="#1a1a1a" stroke-width="0.42">temperature</text><text transform="translate(989.8 505.8) scale(0.850 1)" text-anchor="middle" font-size="15.0" fill="#1a1a1a" stroke="#1a1a1a" stroke-width="0.42">Crystal</text><text transform="translate(989.8 520.7) scale(0.850 1)" text-anchor="middle" font-size="15.0" fill="#1a1a1a" stroke="#1a1a1a" stroke-width="0.42">Growth</text>
<polygon points="764.4,799.4 805.6,799.4 834.8,828.6 834.8,869.8 805.6,899.0 764.4,899.0 735.2,869.8 735.2,828.6" fill="url(#gS)" stroke="#1e5e8e" stroke-width="1.8" stroke-linejoin="miter"/>
<text transform="translate(785.0 848.7) scale(0.850 1)" text-anchor="middle" font-size="16.5" fill="#1a1a1a" stroke="#1a1a1a" stroke-width="0.42">Molecular</text><text transform="translate(785.0 865.1) scale(0.850 1)" text-anchor="middle" font-size="16.5" fill="#1a1a1a" stroke="#1a1a1a" stroke-width="0.42">Sieve</text>
<polygon points="677.8,806.5 719.0,806.5 748.2,835.7 748.2,876.9 719.0,906.1 677.8,906.1 648.6,876.9 648.6,835.7" fill="url(#gS)" stroke="#1e5e8e" stroke-width="1.8" stroke-linejoin="miter"/>
<text transform="translate(705.0 852.8) scale(0.850 1)" text-anchor="middle" font-size="15.5" fill="#1a1a1a" stroke="#1a1a1a" stroke-width="0.42">Seawater</text><text transform="translate(705.0 869.4) scale(0.850 1)" text-anchor="middle" font-size="15.5" fill="#1a1a1a" stroke="#1a1a1a" stroke-width="0.42">Desalination</text>
<polygon points="855.9,787.0 897.1,787.0 926.3,816.2 926.3,857.4 897.1,886.6 855.9,886.6 826.7,857.4 826.7,816.2" fill="url(#gS)" stroke="#1e5e8e" stroke-width="1.8" stroke-linejoin="miter"/>
<text transform="translate(876.5 835.3) scale(0.850 1)" text-anchor="middle" font-size="13.5" fill="#1a1a1a" stroke="#1a1a1a" stroke-width="0.42">Bioalcohol</text><text transform="translate(876.5 849.3) scale(0.850 1)" text-anchor="middle" font-size="13.5" fill="#1a1a1a" stroke="#1a1a1a" stroke-width="0.42">Production</text>
<polygon points="825.4,877.1 866.6,877.1 895.8,906.3 895.8,947.5 866.6,976.7 825.4,976.7 796.2,947.5 796.2,906.3" fill="url(#gS)" stroke="#1e5e8e" stroke-width="1.8" stroke-linejoin="miter"/>
<text transform="translate(847.1 927.0) scale(0.850 1)" text-anchor="middle" font-size="18.5" fill="#1a1a1a" stroke="#1a1a1a" stroke-width="0.42">Hollow</text><text transform="translate(847.1 946.3) scale(0.850 1)" text-anchor="middle" font-size="18.5" fill="#1a1a1a" stroke="#1a1a1a" stroke-width="0.42">Fiber</text>
<polygon points="931.9,838.5 973.1,838.5 1002.3,867.7 1002.3,908.9 973.1,938.1 931.9,938.1 902.7,908.9 902.7,867.7" fill="url(#gS)" stroke="#1e5e8e" stroke-width="1.8" stroke-linejoin="miter"/>
<text transform="translate(952.5 877.0) scale(0.850 1)" text-anchor="middle" font-size="13.0" fill="#1a1a1a" stroke="#1a1a1a" stroke-width="0.42">Manufacturing</text><text transform="translate(952.5 891.0) scale(0.850 1)" text-anchor="middle" font-size="13.0" fill="#1a1a1a" stroke="#1a1a1a" stroke-width="0.42">of</text><text transform="translate(952.5 905.0) scale(0.850 1)" text-anchor="middle" font-size="13.0" fill="#1a1a1a" stroke="#1a1a1a" stroke-width="0.42">Ultrapure</text><text transform="translate(952.5 919.0) scale(0.850 1)" text-anchor="middle" font-size="13.0" fill="#1a1a1a" stroke="#1a1a1a" stroke-width="0.42">Water</text>
<polygon points="1089.8,730.2 1131.0,730.2 1160.2,759.4 1160.2,800.6 1131.0,829.8 1089.8,829.8 1060.6,800.6 1060.6,759.4" fill="url(#gS)" stroke="#1e5e8e" stroke-width="1.8" stroke-linejoin="miter"/>
<text transform="translate(1110.3 785.6) scale(0.850 1)" text-anchor="middle" font-size="13.0" fill="#1a1a1a" stroke="#1a1a1a" stroke-width="0.42">Pervaporation</text>
<polygon points="1093.1,632.7 1134.3,632.7 1163.5,661.9 1163.5,703.1 1134.3,732.3 1093.1,732.3 1063.9,703.1 1063.9,661.9" fill="url(#gY)" stroke="#94762a" stroke-width="1.8" stroke-linejoin="miter"/>
<text transform="translate(1112.7 672.4) scale(0.850 1)" text-anchor="middle" font-size="16.0" fill="#1a1a1a" stroke="#1a1a1a" stroke-width="0.42">Hollow</text><text transform="translate(1112.7 689.5) scale(0.850 1)" text-anchor="middle" font-size="16.0" fill="#1a1a1a" stroke="#1a1a1a" stroke-width="0.42">Particle</text><text transform="translate(1112.7 706.6) scale(0.850 1)" text-anchor="middle" font-size="16.0" fill="#1a1a1a" stroke="#1a1a1a" stroke-width="0.42">Dispersion</text>
<polygon points="1179.4,636.2 1220.6,636.2 1249.8,665.4 1249.8,706.6 1220.6,735.8 1179.4,735.8 1150.2,706.6 1150.2,665.4" fill="url(#gY)" stroke="#94762a" stroke-width="1.8" stroke-linejoin="miter"/>
<text transform="translate(1200.5 676.7) scale(0.850 1)" text-anchor="middle" font-size="16.0" fill="#1a1a1a" stroke="#1a1a1a" stroke-width="0.42">Ventilation</text><text transform="translate(1200.5 693.6) scale(0.850 1)" text-anchor="middle" font-size="16.0" fill="#1a1a1a" stroke="#1a1a1a" stroke-width="0.42">and</text><text transform="translate(1200.5 710.5) scale(0.850 1)" text-anchor="middle" font-size="16.0" fill="#1a1a1a" stroke="#1a1a1a" stroke-width="0.42">Dust-proof</text>
<polygon points="1212.8,557.7 1254.0,557.7 1283.2,586.9 1283.2,628.1 1254.0,657.3 1212.8,657.3 1183.6,628.1 1183.6,586.9" fill="url(#gY)" stroke="#94762a" stroke-width="1.8" stroke-linejoin="miter"/>
<text transform="translate(1233.4 605.4) scale(0.850 1)" text-anchor="middle" font-size="16.5" fill="#1a1a1a" stroke="#1a1a1a" stroke-width="0.42">Phase</text><text transform="translate(1233.4 622.3) scale(0.850 1)" text-anchor="middle" font-size="16.5" fill="#1a1a1a" stroke="#1a1a1a" stroke-width="0.42">Separation</text>
<polygon points="1115.5,549.7 1156.7,549.7 1185.9,578.9 1185.9,620.1 1156.7,649.3 1115.5,649.3 1086.3,620.1 1086.3,578.9" fill="url(#gY)" stroke="#94762a" stroke-width="1.8" stroke-linejoin="miter"/>
<text transform="translate(1136.1 597.6) scale(0.850 1)" text-anchor="middle" font-size="16.5" fill="#1a1a1a" stroke="#1a1a1a" stroke-width="0.42">Monolith</text><text transform="translate(1136.1 614.7) scale(0.850 1)" text-anchor="middle" font-size="16.5" fill="#1a1a1a" stroke="#1a1a1a" stroke-width="0.42">Structure</text>
<polygon points="1162.6,476.9 1203.8,476.9 1233.0,506.1 1233.0,547.3 1203.8,576.5 1162.6,576.5 1133.4,547.3 1133.4,506.1" fill="url(#gY)" stroke="#94762a" stroke-width="1.8" stroke-linejoin="miter"/>
<text transform="translate(1182.4 517.4) scale(0.850 1)" text-anchor="middle" font-size="16.0" fill="#1a1a1a" stroke="#1a1a1a" stroke-width="0.42">Ostomy</text><text transform="translate(1182.4 534.3) scale(0.850 1)" text-anchor="middle" font-size="16.0" fill="#1a1a1a" stroke="#1a1a1a" stroke-width="0.42">by</text><text transform="translate(1182.4 551.2) scale(0.850 1)" text-anchor="middle" font-size="16.0" fill="#1a1a1a" stroke="#1a1a1a" stroke-width="0.42">Stretching</text>
<polygon points="1161.7,382.2 1202.9,382.2 1232.1,411.4 1232.1,452.6 1202.9,481.8 1161.7,481.8 1132.5,452.6 1132.5,411.4" fill="url(#gY)" stroke="#94762a" stroke-width="1.8" stroke-linejoin="miter"/>
<text transform="translate(1181.2 431.0) scale(0.850 1)" text-anchor="middle" font-size="16.0" fill="#1a1a1a" stroke="#1a1a1a" stroke-width="0.42">Low</text><text transform="translate(1181.2 448.4) scale(0.850 1)" text-anchor="middle" font-size="16.0" fill="#1a1a1a" stroke="#1a1a1a" stroke-width="0.42">Dielectricity</text>
<polygon points="1215.6,330.7 1256.8,330.7 1286.0,359.9 1286.0,401.1 1256.8,430.3 1215.6,430.3 1186.4,401.1 1186.4,359.9" fill="url(#gY)" stroke="#94762a" stroke-width="1.8" stroke-linejoin="miter"/>
<text transform="translate(1238.2 383.3) scale(0.850 1)" text-anchor="middle" font-size="16.0" fill="#1a1a1a" stroke="#1a1a1a" stroke-width="0.42">Supercritical</text><text transform="translate(1238.2 400.2) scale(0.850 1)" text-anchor="middle" font-size="16.0" fill="#1a1a1a" stroke="#1a1a1a" stroke-width="0.42">Fluid</text>
<polygon points="1154.6,264.9 1195.8,264.9 1225.0,294.1 1225.0,335.3 1195.8,364.5 1154.6,364.5 1125.4,335.3 1125.4,294.1" fill="url(#gR)" stroke="#871f36" stroke-width="1.8" stroke-linejoin="miter"/>
<text transform="translate(1176.2 304.5) scale(0.850 1)" text-anchor="middle" font-size="13.0" fill="#1a1a1a" stroke="#1a1a1a" stroke-width="0.42">Surface</text><text transform="translate(1176.2 318.6) scale(0.850 1)" text-anchor="middle" font-size="13.0" fill="#1a1a1a" stroke="#1a1a1a" stroke-width="0.42">Modification</text><text transform="translate(1176.2 332.7) scale(0.850 1)" text-anchor="middle" font-size="13.0" fill="#1a1a1a" stroke="#1a1a1a" stroke-width="0.42">by Dry Process</text>
<polygon points="1086.4,326.7 1127.6,326.7 1156.8,355.9 1156.8,397.1 1127.6,426.3 1086.4,426.3 1057.2,397.1 1057.2,355.9" fill="url(#gR)" stroke="#871f36" stroke-width="1.8" stroke-linejoin="miter"/>
<text transform="translate(1107.4 369.2) scale(0.850 1)" text-anchor="middle" font-size="14.5" fill="#1a1a1a" stroke="#1a1a1a" stroke-width="0.42">Precise Grain</text><text transform="translate(1107.4 384.2) scale(0.850 1)" text-anchor="middle" font-size="14.5" fill="#1a1a1a" stroke="#1a1a1a" stroke-width="0.42">Growth</text><text transform="translate(1107.4 399.2) scale(0.850 1)" text-anchor="middle" font-size="14.5" fill="#1a1a1a" stroke="#1a1a1a" stroke-width="0.42">Control</text>
<polygon points="1102.7,911.5 1143.9,911.5 1173.1,940.7 1173.1,981.9 1143.9,1011.1 1102.7,1011.1 1073.5,981.9 1073.5,940.7" fill="url(#gS)" stroke="#1e5e8e" stroke-width="1.8" stroke-linejoin="miter"/>
<text transform="translate(1124.8 943.5) scale(0.850 1)" text-anchor="middle" font-size="15.0" fill="#1a1a1a" stroke="#1a1a1a" stroke-width="0.42">Simulation</text><text transform="translate(1124.8 958.8) scale(0.850 1)" text-anchor="middle" font-size="15.0" fill="#1a1a1a" stroke="#1a1a1a" stroke-width="0.42">of</text><text transform="translate(1124.8 974.1) scale(0.850 1)" text-anchor="middle" font-size="15.0" fill="#1a1a1a" stroke="#1a1a1a" stroke-width="0.42">Membrane</text><text transform="translate(1124.8 989.4) scale(0.850 1)" text-anchor="middle" font-size="15.0" fill="#1a1a1a" stroke="#1a1a1a" stroke-width="0.42">System</text>
<polygon points="1098.2,816.9 1139.4,816.9 1168.6,846.1 1168.6,887.3 1139.4,916.5 1098.2,916.5 1069.0,887.3 1069.0,846.1" fill="url(#gS)" stroke="#1e5e8e" stroke-width="1.8" stroke-linejoin="miter"/>
<text transform="translate(1119.5 864.4) scale(0.850 1)" text-anchor="middle" font-size="16.5" fill="#1a1a1a" stroke="#1a1a1a" stroke-width="0.42">Solvent</text><text transform="translate(1119.5 881.3) scale(0.850 1)" text-anchor="middle" font-size="16.5" fill="#1a1a1a" stroke="#1a1a1a" stroke-width="0.42">Recycling</text>
<polygon points="1018.5,782.2 1059.7,782.2 1088.9,811.4 1088.9,852.6 1059.7,881.8 1018.5,881.8 989.3,852.6 989.3,811.4" fill="url(#gS)" stroke="#1e5e8e" stroke-width="1.8" stroke-linejoin="miter"/>
<text transform="translate(1038.7 833.8) scale(0.850 1)" text-anchor="middle" font-size="16.5" fill="#1a1a1a">H<tspan font-size="9.1" dy="1">2</tspan></text><text transform="translate(1038.7 850.8) scale(0.850 1)" text-anchor="middle" font-size="16.5" fill="#1a1a1a" stroke="#1a1a1a" stroke-width="0.42">Separation</text>
<polygon points="1012.6,691.5 1053.8,691.5 1083.0,720.7 1083.0,761.9 1053.8,791.1 1012.6,791.1 983.4,761.9 983.4,720.7" fill="url(#gY)" stroke="#94762a" stroke-width="1.8" stroke-linejoin="miter"/>
<text transform="translate(1034.0 732.3) scale(0.850 1)" text-anchor="middle" font-size="16.0" fill="#1a1a1a" stroke="#1a1a1a" stroke-width="0.42">Multi-layer</text><text transform="translate(1034.0 749.3) scale(0.850 1)" text-anchor="middle" font-size="16.0" fill="#1a1a1a" stroke="#1a1a1a" stroke-width="0.42">Porous</text><text transform="translate(1034.0 766.3) scale(0.850 1)" text-anchor="middle" font-size="16.0" fill="#1a1a1a" stroke="#1a1a1a" stroke-width="0.42">Material</text>
<polygon points="940.1,742.0 981.1,742.0 1010.0,770.9 1010.0,811.9 981.1,840.8 940.1,840.8 911.2,811.9 911.2,770.9" fill="url(#gH)" stroke="#2b9bf1" stroke-width="2.6" stroke-linejoin="miter"/>
<text transform="translate(961.0 789.1) scale(0.850 1)" text-anchor="middle" font-size="17.5" fill="#1a1a1a" stroke="#1a1a1a" stroke-width="0.42">Spiral</text><text transform="translate(961.0 807.9) scale(0.850 1)" text-anchor="middle" font-size="17.5" fill="#1a1a1a" stroke="#1a1a1a" stroke-width="0.42">Element</text>
<polygon points="856.0,710.4 897.0,710.4 925.9,739.3 925.9,780.3 897.0,809.2 856.0,809.2 827.1,780.3 827.1,739.3" fill="url(#gH)" stroke="#2b9bf1" stroke-width="2.6" stroke-linejoin="miter"/>
<text transform="translate(876.5 757.7) scale(0.850 1)" text-anchor="middle" font-size="13.0" fill="#1a1a1a" stroke="#1a1a1a" stroke-width="0.42">Interfacial</text><text transform="translate(876.5 772.2) scale(0.850 1)" text-anchor="middle" font-size="13.0" fill="#1a1a1a" stroke="#1a1a1a" stroke-width="0.42">Polymerization</text>
<polygon points="1015.0,883.7 1056.0,883.7 1084.9,912.6 1084.9,953.6 1056.0,982.5 1015.0,982.5 986.1,953.6 986.1,912.6" fill="url(#gH)" stroke="#2b9bf1" stroke-width="2.6" stroke-linejoin="miter"/>
<text transform="translate(1035.8 930.2) scale(0.850 1)" text-anchor="middle" font-size="15.5" fill="#1a1a1a" stroke="#1a1a1a" stroke-width="0.42">Wastewater</text><text transform="translate(1035.8 946.9) scale(0.850 1)" text-anchor="middle" font-size="15.5" fill="#1a1a1a" stroke="#1a1a1a" stroke-width="0.42">Recycling</text>
<polygon points="1189.5,824.3 1230.5,824.3 1259.4,853.2 1259.4,894.2 1230.5,923.1 1189.5,923.1 1160.6,894.2 1160.6,853.2" fill="url(#gH)" stroke="#2b9bf1" stroke-width="2.6" stroke-linejoin="miter"/>
<text transform="translate(1210.7 874.5) scale(0.850 1)" text-anchor="middle" font-size="15.5" fill="#1a1a1a" stroke="#1a1a1a" stroke-width="0.42">Dissolution,</text><text transform="translate(1210.7 891.4) scale(0.850 1)" text-anchor="middle" font-size="15.5" fill="#1a1a1a" stroke="#1a1a1a" stroke-width="0.42">Diffusion</text>
<polygon points="1185.3,735.8 1226.3,735.8 1255.2,764.7 1255.2,805.7 1226.3,834.6 1185.3,834.6 1156.4,805.7 1156.4,764.7" fill="url(#gH)" stroke="#2b9bf1" stroke-width="2.6" stroke-linejoin="miter"/>
<text transform="translate(1206.6 783.5) scale(0.850 1)" text-anchor="middle" font-size="16.0" fill="#1a1a1a" stroke="#1a1a1a" stroke-width="0.42">Reverse</text><text transform="translate(1206.6 800.4) scale(0.850 1)" text-anchor="middle" font-size="16.0" fill="#1a1a1a" stroke="#1a1a1a" stroke-width="0.42">Osmosis</text>
<polygon points="505.9,772.0 547.1,772.0 576.3,801.2 576.3,842.4 547.1,871.6 505.9,871.6 476.7,842.4 476.7,801.2" fill="url(#gD)" stroke="#12623a" stroke-width="1.8" stroke-linejoin="miter"/>
<text transform="translate(528.8 819.4) scale(0.850 1)" text-anchor="middle" font-size="17.0" fill="#1a1a1a" stroke="#1a1a1a" stroke-width="0.42">Polymer</text><text transform="translate(528.8 836.7) scale(0.850 1)" text-anchor="middle" font-size="17.0" fill="#1a1a1a" stroke="#1a1a1a" stroke-width="0.42">Support</text>
<polygon points="581.6,707.7 622.8,707.7 652.0,736.9 652.0,778.1 622.8,807.3 581.6,807.3 552.4,778.1 552.4,736.9" fill="url(#gD)" stroke="#12623a" stroke-width="1.8" stroke-linejoin="miter"/>
<text transform="translate(602.7 765.3) scale(0.850 1)" text-anchor="middle" font-size="18.5" fill="#1a1a1a" stroke="#1a1a1a" stroke-width="0.42">siRNA</text>
<polygon points="479.0,914.9 520.2,914.9 549.4,944.1 549.4,985.3 520.2,1014.5 479.0,1014.5 449.8,985.3 449.8,944.1" fill="url(#gD)" stroke="#12623a" stroke-width="1.8" stroke-linejoin="miter"/>
<text transform="translate(499.6 966.9) scale(0.850 1)" text-anchor="middle" font-size="18.5" fill="#1a1a1a" stroke="#1a1a1a" stroke-width="0.42">Antisense</text><text transform="translate(499.6 985.7) scale(0.850 1)" text-anchor="middle" font-size="18.5" fill="#1a1a1a" stroke="#1a1a1a" stroke-width="0.42">DNA</text>
<polygon points="525.7,851.7 566.9,851.7 596.1,880.9 596.1,922.1 566.9,951.3 525.7,951.3 496.5,922.1 496.5,880.9" fill="url(#gD)" stroke="#12623a" stroke-width="1.8" stroke-linejoin="miter"/>
<text transform="translate(546.2 887.0) scale(0.850 1)" text-anchor="middle" font-size="13.0" fill="#1a1a1a" stroke="#1a1a1a" stroke-width="0.42">AI-driven</text><text transform="translate(546.2 901.1) scale(0.850 1)" text-anchor="middle" font-size="13.0" fill="#1a1a1a" stroke="#1a1a1a" stroke-width="0.42">Nucleic Acid</text><text transform="translate(546.2 915.3) scale(0.850 1)" text-anchor="middle" font-size="13.0" fill="#1a1a1a" stroke="#1a1a1a" stroke-width="0.42">Sequence</text><text transform="translate(546.2 929.4) scale(0.850 1)" text-anchor="middle" font-size="13.0" fill="#1a1a1a" stroke="#1a1a1a" stroke-width="0.42">Design</text>
<polygon points="593.7,790.5 634.9,790.5 664.1,819.7 664.1,860.9 634.9,890.1 593.7,890.1 564.5,860.9 564.5,819.7" fill="url(#gD)" stroke="#12623a" stroke-width="1.8" stroke-linejoin="miter"/>
<text transform="translate(613.6 838.7) scale(0.850 1)" text-anchor="middle" font-size="14.5" fill="#1a1a1a" stroke="#1a1a1a" stroke-width="0.42">Solid-phase</text><text transform="translate(613.6 853.4) scale(0.850 1)" text-anchor="middle" font-size="14.5" fill="#1a1a1a" stroke="#1a1a1a" stroke-width="0.42">Synthesis</text>
<polygon points="432.0,833.1 473.2,833.1 502.4,862.3 502.4,903.5 473.2,932.7 432.0,932.7 402.8,903.5 402.8,862.3" fill="url(#gD)" stroke="#12623a" stroke-width="1.8" stroke-linejoin="miter"/>
<text transform="translate(453.3 884.0) scale(0.850 1)" text-anchor="middle" font-size="14.5" fill="#1a1a1a" stroke="#1a1a1a" stroke-width="0.42">Incorporation</text><text transform="translate(453.3 899.0) scale(0.850 1)" text-anchor="middle" font-size="14.5" fill="#1a1a1a" stroke="#1a1a1a" stroke-width="0.42">of a Linker</text>
<polygon points="367.4,536.9 408.6,536.9 437.8,566.1 437.8,607.3 408.6,636.5 367.4,636.5 338.2,607.3 338.2,566.1" fill="url(#gP)" stroke="#5a3a98" stroke-width="1.8" stroke-linejoin="miter"/>
<text transform="translate(388.0 596.2) scale(0.850 1)" text-anchor="middle" font-size="18.5" fill="#1a1a1a" stroke="#1a1a1a" stroke-width="0.42">mRNA</text>
<polygon points="419.4,600.0 460.6,600.0 489.8,629.2 489.8,670.4 460.6,699.6 419.4,699.6 390.2,670.4 390.2,629.2" fill="url(#gP)" stroke="#5a3a98" stroke-width="1.8" stroke-linejoin="miter"/>
<text transform="translate(441.3 649.9) scale(0.850 1)" text-anchor="middle" font-size="13.5" fill="#1a1a1a" stroke="#1a1a1a" stroke-width="0.42">Transdermal</text><text transform="translate(441.3 663.9) scale(0.850 1)" text-anchor="middle" font-size="13.5" fill="#1a1a1a" stroke="#1a1a1a" stroke-width="0.42">Absorption</text>
<polygon points="492.6,649.7 533.8,649.7 563.0,678.9 563.0,720.1 533.8,749.3 492.6,749.3 463.4,720.1 463.4,678.9" fill="url(#gD)" stroke="#12623a" stroke-width="1.8" stroke-linejoin="miter"/>
<text transform="translate(509.1 695.8) scale(0.850 1)" text-anchor="middle" font-size="13.0" fill="#1a1a1a" stroke="#1a1a1a" stroke-width="0.42">Long Chain</text><text transform="translate(509.1 709.8) scale(0.850 1)" text-anchor="middle" font-size="13.0" fill="#1a1a1a" stroke="#1a1a1a" stroke-width="0.42">Oligonucleotide</text>
<polygon points="202.8,736.2 244.0,736.2 273.2,765.4 273.2,806.6 244.0,835.8 202.8,835.8 173.6,806.6 173.6,765.4" fill="url(#gP)" stroke="#5a3a98" stroke-width="1.8" stroke-linejoin="miter"/>
<text transform="translate(223.8 771.8) scale(0.850 1)" text-anchor="middle" font-size="16.5" fill="#1a1a1a" stroke="#1a1a1a" stroke-width="0.42">Organ</text><text transform="translate(223.8 788.9) scale(0.850 1)" text-anchor="middle" font-size="16.5" fill="#1a1a1a" stroke="#1a1a1a" stroke-width="0.42">Specific</text><text transform="translate(223.8 806.0) scale(0.850 1)" text-anchor="middle" font-size="16.5" fill="#1a1a1a" stroke="#1a1a1a" stroke-width="0.42">Delivery</text>
<polygon points="122.6,688.2 163.8,688.2 193.0,717.4 193.0,758.6 163.8,787.8 122.6,787.8 93.4,758.6 93.4,717.4" fill="url(#gP)" stroke="#5a3a98" stroke-width="1.8" stroke-linejoin="miter"/>
<text transform="translate(143.4 725.7) scale(0.850 1)" text-anchor="middle" font-size="16.5" fill="#1a1a1a" stroke="#1a1a1a" stroke-width="0.42">Cell</text><text transform="translate(143.4 742.8) scale(0.850 1)" text-anchor="middle" font-size="16.5" fill="#1a1a1a" stroke="#1a1a1a" stroke-width="0.42">Specific</text><text transform="translate(143.4 759.9) scale(0.850 1)" text-anchor="middle" font-size="16.5" fill="#1a1a1a" stroke="#1a1a1a" stroke-width="0.42">Delivery</text>
<polygon points="72.4,613.2 113.6,613.2 142.8,642.4 142.8,683.6 113.6,712.8 72.4,712.8 43.2,683.6 43.2,642.4" fill="url(#gP)" stroke="#5a3a98" stroke-width="1.8" stroke-linejoin="miter"/>
<text transform="translate(93.5 655.2) scale(0.850 1)" text-anchor="middle" font-size="14.5" fill="#1a1a1a" stroke="#1a1a1a" stroke-width="0.42">Sustained</text><text transform="translate(93.5 670.3) scale(0.850 1)" text-anchor="middle" font-size="14.5" fill="#1a1a1a" stroke="#1a1a1a" stroke-width="0.42">Release</text><text transform="translate(93.5 685.4) scale(0.850 1)" text-anchor="middle" font-size="14.5" fill="#1a1a1a" stroke="#1a1a1a" stroke-width="0.42">Control</text>
<polygon points="300.3,738.4 341.5,738.4 370.7,767.6 370.7,808.8 341.5,838.0 300.3,838.0 271.1,808.8 271.1,767.6" fill="url(#gP)" stroke="#5a3a98" stroke-width="1.8" stroke-linejoin="miter"/>
<text transform="translate(320.9 779.0) scale(0.850 1)" text-anchor="middle" font-size="13.5" fill="#1a1a1a" stroke="#1a1a1a" stroke-width="0.42">in-vivo</text><text transform="translate(320.9 792.9) scale(0.850 1)" text-anchor="middle" font-size="13.5" fill="#1a1a1a" stroke="#1a1a1a" stroke-width="0.42">/in-vitro</text><text transform="translate(320.9 806.8) scale(0.850 1)" text-anchor="middle" font-size="13.5" fill="#1a1a1a" stroke="#1a1a1a" stroke-width="0.42">Evaluation</text>
<polygon points="326.3,831.5 367.5,831.5 396.7,860.7 396.7,901.9 367.5,931.1 326.3,931.1 297.1,901.9 297.1,860.7" fill="url(#gD)" stroke="#12623a" stroke-width="1.8" stroke-linejoin="miter"/>
<text transform="translate(346.8 872.5) scale(0.850 1)" text-anchor="middle" font-size="13.0" fill="#1a1a1a" stroke="#1a1a1a" stroke-width="0.42">AI-driven</text><text transform="translate(346.8 886.5) scale(0.850 1)" text-anchor="middle" font-size="13.0" fill="#1a1a1a" stroke="#1a1a1a" stroke-width="0.42">Drug Target</text><text transform="translate(346.8 900.5) scale(0.850 1)" text-anchor="middle" font-size="13.0" fill="#1a1a1a" stroke="#1a1a1a" stroke-width="0.42">Exploration</text>
<polygon points="382.0,907.7 423.2,907.7 452.4,936.9 452.4,978.1 423.2,1007.3 382.0,1007.3 352.8,978.1 352.8,936.9" fill="url(#gD)" stroke="#12623a" stroke-width="1.8" stroke-linejoin="miter"/>
<text transform="translate(402.6 965.0) scale(0.850 1)" text-anchor="middle" font-size="18.5" fill="#1a1a1a" stroke="#1a1a1a" stroke-width="0.42">Adjuvant</text>
<polygon points="248.3,656.9 289.5,656.9 318.7,686.1 318.7,727.3 289.5,756.5 248.3,756.5 219.1,727.3 219.1,686.1" fill="url(#gP)" stroke="#5a3a98" stroke-width="1.8" stroke-linejoin="miter"/>
<text transform="translate(268.9 702.2) scale(0.850 1)" text-anchor="middle" font-size="16.0" fill="#1a1a1a" stroke="#1a1a1a" stroke-width="0.42">Lipid</text><text transform="translate(268.9 719.1) scale(0.850 1)" text-anchor="middle" font-size="16.0" fill="#1a1a1a" stroke="#1a1a1a" stroke-width="0.42">Nanoparticle</text>
<polygon points="169.3,603.1 210.5,603.1 239.7,632.3 239.7,673.5 210.5,702.7 169.3,702.7 140.1,673.5 140.1,632.3" fill="url(#gP)" stroke="#5a3a98" stroke-width="1.8" stroke-linejoin="miter"/>
<text transform="translate(189.3 653.1) scale(0.850 1)" text-anchor="middle" font-size="13.5" fill="#1a1a1a" stroke="#1a1a1a" stroke-width="0.42">Ligand-siRNA</text><text transform="translate(189.3 667.3) scale(0.850 1)" text-anchor="middle" font-size="13.5" fill="#1a1a1a" stroke="#1a1a1a" stroke-width="0.42">Conjugate</text>
<polygon points="365.2,676.4 406.4,676.4 435.6,705.6 435.6,746.8 406.4,776.0 365.2,776.0 336.0,746.8 336.0,705.6" fill="url(#gP)" stroke="#5a3a98" stroke-width="1.8" stroke-linejoin="miter"/>
<text transform="translate(386.7 725.5) scale(0.850 1)" text-anchor="middle" font-size="17.0" fill="#1a1a1a" stroke="#1a1a1a" stroke-width="0.42">Delivery</text><text transform="translate(386.7 741.8) scale(0.850 1)" text-anchor="middle" font-size="17.0" fill="#1a1a1a" stroke="#1a1a1a" stroke-width="0.42">Evaluation</text>
<polygon points="383.1,767.2 424.3,767.2 453.5,796.4 453.5,837.6 424.3,866.8 383.1,866.8 353.9,837.6 353.9,796.4" fill="url(#gD)" stroke="#12623a" stroke-width="1.8" stroke-linejoin="miter"/>
<text transform="translate(403.6 815.9) scale(0.850 1)" text-anchor="middle" font-size="13.5" fill="#1a1a1a" stroke="#1a1a1a" stroke-width="0.42">Modified</text><text transform="translate(403.6 830.4) scale(0.850 1)" text-anchor="middle" font-size="13.5" fill="#1a1a1a" stroke="#1a1a1a" stroke-width="0.42">Oligonucleotide</text>
<polygon points="446.9,716.0 488.1,716.0 517.3,745.2 517.3,786.4 488.1,815.6 446.9,815.6 417.7,786.4 417.7,745.2" fill="url(#gD)" stroke="#12623a" stroke-width="1.8" stroke-linejoin="miter"/>
<text transform="translate(467.6 758.6) scale(0.850 1)" text-anchor="middle" font-size="13.0" fill="#1a1a1a" stroke="#1a1a1a" stroke-width="0.42">Synthetic</text><text transform="translate(467.6 772.7) scale(0.850 1)" text-anchor="middle" font-size="13.0" fill="#1a1a1a" stroke="#1a1a1a" stroke-width="0.42">Oligonucleotide</text><text transform="translate(467.6 786.8) scale(0.850 1)" text-anchor="middle" font-size="13.0" fill="#1a1a1a" stroke="#1a1a1a" stroke-width="0.42">Library</text>
<polygon points="318.7,608.7 359.9,608.7 389.1,637.9 389.1,679.1 359.9,708.3 318.7,708.3 289.5,679.1 289.5,637.9" fill="url(#gP)" stroke="#5a3a98" stroke-width="1.8" stroke-linejoin="miter"/>
<text transform="translate(339.7 649.9) scale(0.850 1)" text-anchor="middle" font-size="13.5" fill="#1a1a1a" stroke="#1a1a1a" stroke-width="0.42">Evaluation</text><text transform="translate(339.7 663.9) scale(0.850 1)" text-anchor="middle" font-size="13.5" fill="#1a1a1a" stroke="#1a1a1a" stroke-width="0.42">of Skin</text><text transform="translate(339.7 677.9) scale(0.850 1)" text-anchor="middle" font-size="13.5" fill="#1a1a1a" stroke="#1a1a1a" stroke-width="0.42">Permeability</text>
<polygon points="418.0,475.8 459.2,475.8 488.4,505.0 488.4,546.2 459.2,575.4 418.0,575.4 388.8,546.2 388.8,505.0" fill="url(#gB)" stroke="#0b3688" stroke-width="1.8" stroke-linejoin="miter"/>
<text transform="translate(438.8 522.4) scale(0.850 1)" text-anchor="middle" font-size="16.0" fill="#1a1a1a" stroke="#1a1a1a" stroke-width="0.42">For</text><text transform="translate(438.8 539.3) scale(0.850 1)" text-anchor="middle" font-size="16.0" fill="#1a1a1a" stroke="#1a1a1a" stroke-width="0.42">Automobile</text>
<polygon points="373.9,412.2 415.1,412.2 444.3,441.4 444.3,482.6 415.1,511.8 373.9,511.8 344.7,482.6 344.7,441.4" fill="url(#gB)" stroke="#0b3688" stroke-width="1.8" stroke-linejoin="miter"/>
<text transform="translate(395.8 469.4) scale(0.850 1)" text-anchor="middle" font-size="18.5" fill="#1a1a1a" stroke="#1a1a1a" stroke-width="0.42">Biomass</text>
<polygon points="427.6,343.7 468.8,343.7 498.0,372.9 498.0,414.1 468.8,443.3 427.6,443.3 398.4,414.1 398.4,372.9" fill="url(#gB)" stroke="#0b3688" stroke-width="1.8" stroke-linejoin="miter"/>
<text transform="translate(448.2 399.5) scale(0.850 1)" text-anchor="middle" font-size="13.5" fill="#1a1a1a" stroke="#1a1a1a" stroke-width="0.42">Polymerization</text>
<polygon points="492.4,268.9 533.6,268.9 562.8,298.1 562.8,339.3 533.6,368.5 492.4,368.5 463.2,339.3 463.2,298.1" fill="url(#gO)" stroke="#8a5a08" stroke-width="1.8" stroke-linejoin="miter"/>
<text transform="translate(512.4 315.5) scale(0.850 1)" text-anchor="middle" font-size="17.0" fill="#1a1a1a" stroke="#1a1a1a" stroke-width="0.42">Optical</text><text transform="translate(512.4 334.3) scale(0.850 1)" text-anchor="middle" font-size="17.0" fill="#1a1a1a" stroke="#1a1a1a" stroke-width="0.42">Simulation</text>
<polygon points="449.2,188.5 490.4,188.5 519.6,217.7 519.6,258.9 490.4,288.1 449.2,288.1 420.0,258.9 420.0,217.7" fill="url(#gO)" stroke="#8a5a08" stroke-width="1.8" stroke-linejoin="miter"/>
<text transform="translate(469.3 226.5) scale(0.850 1)" text-anchor="middle" font-size="16.0" fill="#1a1a1a" stroke="#1a1a1a" stroke-width="0.42">3D</text><text transform="translate(469.3 243.7) scale(0.850 1)" text-anchor="middle" font-size="16.0" fill="#1a1a1a" stroke="#1a1a1a" stroke-width="0.42">Alignment</text><text transform="translate(469.3 260.9) scale(0.850 1)" text-anchor="middle" font-size="16.0" fill="#1a1a1a" stroke="#1a1a1a" stroke-width="0.42">Control</text>
<polygon points="358.0,200.8 399.2,200.8 428.4,230.0 428.4,271.2 399.2,300.4 358.0,300.4 328.8,271.2 328.8,230.0" fill="url(#gO)" stroke="#8a5a08" stroke-width="1.8" stroke-linejoin="miter"/>
<text transform="translate(380.0 256.5) scale(0.850 1)" text-anchor="middle" font-size="17.0" fill="#1a1a1a" stroke="#1a1a1a" stroke-width="0.42">Holography</text>
<polygon points="273.6,244.7 314.8,244.7 344.0,273.9 344.0,315.1 314.8,344.3 273.6,344.3 244.4,315.1 244.4,273.9" fill="url(#gO)" stroke="#8a5a08" stroke-width="1.8" stroke-linejoin="miter"/>
<text transform="translate(295.9 293.8) scale(0.850 1)" text-anchor="middle" font-size="17.0" fill="#1a1a1a" stroke="#1a1a1a" stroke-width="0.42">Precision</text><text transform="translate(295.9 312.8) scale(0.850 1)" text-anchor="middle" font-size="17.0" fill="#1a1a1a" stroke="#1a1a1a" stroke-width="0.42">Coating</text>
<polygon points="522.0,146.6 563.2,146.6 592.4,175.8 592.4,217.0 563.2,246.2 522.0,246.2 492.8,217.0 492.8,175.8" fill="url(#gO)" stroke="#8a5a08" stroke-width="1.8" stroke-linejoin="miter"/>
<text transform="translate(542.4 196.5) scale(0.850 1)" text-anchor="middle" font-size="14.0" fill="#1a1a1a" stroke="#1a1a1a" stroke-width="0.42">Wavelength</text><text transform="translate(542.4 211.5) scale(0.850 1)" text-anchor="middle" font-size="14.0" fill="#1a1a1a" stroke="#1a1a1a" stroke-width="0.42">Conversion</text>
<polygon points="313.0,481.2 354.2,481.2 383.4,510.4 383.4,551.6 354.2,580.8 313.0,580.8 283.8,551.6 283.8,510.4" fill="url(#gB)" stroke="#0b3688" stroke-width="1.8" stroke-linejoin="miter"/>
<text transform="translate(335.3 516.0) scale(0.850 1)" text-anchor="middle" font-size="13.0" fill="#1a1a1a" stroke="#1a1a1a" stroke-width="0.42">Thin-layer</text><text transform="translate(335.3 530.1) scale(0.850 1)" text-anchor="middle" font-size="13.0" fill="#1a1a1a" stroke="#1a1a1a" stroke-width="0.42">Coating,</text><text transform="translate(335.3 544.3) scale(0.850 1)" text-anchor="middle" font-size="13.0" fill="#1a1a1a" stroke="#1a1a1a" stroke-width="0.42">Multi-layer</text><text transform="translate(335.3 558.4) scale(0.850 1)" text-anchor="middle" font-size="13.0" fill="#1a1a1a" stroke="#1a1a1a" stroke-width="0.42">Coating</text>
<polygon points="285.6,393.2 326.8,393.2 356.0,422.4 356.0,463.6 326.8,492.8 285.6,492.8 256.4,463.6 256.4,422.4" fill="url(#gB)" stroke="#0b3688" stroke-width="1.8" stroke-linejoin="miter"/>
<text transform="translate(306.7 442.5) scale(0.850 1)" text-anchor="middle" font-size="14.5" fill="#1a1a1a" stroke="#1a1a1a" stroke-width="0.42">For</text><text transform="translate(306.7 457.5) scale(0.850 1)" text-anchor="middle" font-size="14.5" fill="#1a1a1a" stroke="#1a1a1a" stroke-width="0.42">Medical Use</text>
<polygon points="322.4,329.6 363.6,329.6 392.8,358.8 392.8,400.0 363.6,429.2 322.4,429.2 293.2,400.0 293.2,358.8" fill="url(#gB)" stroke="#0b3688" stroke-width="1.8" stroke-linejoin="miter"/>
<text transform="translate(344.5 361.7) scale(0.850 1)" text-anchor="middle" font-size="13.0" fill="#1a1a1a" stroke="#1a1a1a" stroke-width="0.42">Strong</text><text transform="translate(344.5 375.8) scale(0.850 1)" text-anchor="middle" font-size="13.0" fill="#1a1a1a" stroke="#1a1a1a" stroke-width="0.42">Adhesion,</text><text transform="translate(344.5 389.9) scale(0.850 1)" text-anchor="middle" font-size="13.0" fill="#1a1a1a" stroke="#1a1a1a" stroke-width="0.42">Light</text><text transform="translate(344.5 404.0) scale(0.850 1)" text-anchor="middle" font-size="13.0" fill="#1a1a1a" stroke="#1a1a1a" stroke-width="0.42">Peeling Force</text>
<polygon points="232.4,319.2 273.6,319.2 302.8,348.4 302.8,389.6 273.6,418.8 232.4,418.8 203.2,389.6 203.2,348.4" fill="url(#gB)" stroke="#0b3688" stroke-width="1.8" stroke-linejoin="miter"/>
<text transform="translate(254.3 359.6) scale(0.850 1)" text-anchor="middle" font-size="13.0" fill="#1a1a1a" stroke="#1a1a1a" stroke-width="0.42">For</text><text transform="translate(254.3 373.7) scale(0.850 1)" text-anchor="middle" font-size="13.0" fill="#1a1a1a" stroke="#1a1a1a" stroke-width="0.42">Semiconductor</text><text transform="translate(254.3 387.8) scale(0.850 1)" text-anchor="middle" font-size="13.0" fill="#1a1a1a" stroke="#1a1a1a" stroke-width="0.42">and Electronic</text>
<polygon points="155.5,270.4 196.7,270.4 225.9,299.6 225.9,340.8 196.7,370.0 155.5,370.0 126.3,340.8 126.3,299.6" fill="url(#gB)" stroke="#0b3688" stroke-width="1.8" stroke-linejoin="miter"/>
<text transform="translate(176.3 319.8) scale(0.850 1)" text-anchor="middle" font-size="13.5" fill="#1a1a1a" stroke="#1a1a1a" stroke-width="0.42">Viscoelasticity</text><text transform="translate(176.3 334.0) scale(0.850 1)" text-anchor="middle" font-size="13.5" fill="#1a1a1a" stroke="#1a1a1a" stroke-width="0.42">Control</text>
<polygon points="111.4,352.3 152.6,352.3 181.8,381.5 181.8,422.7 152.6,451.9 111.4,451.9 82.2,422.7 82.2,381.5" fill="url(#gB)" stroke="#0b3688" stroke-width="1.8" stroke-linejoin="miter"/>
<text transform="translate(132.4 399.8) scale(0.850 1)" text-anchor="middle" font-size="18.5" fill="#1a1a1a" stroke="#1a1a1a" stroke-width="0.42">UV</text><text transform="translate(132.4 418.6) scale(0.850 1)" text-anchor="middle" font-size="18.5" fill="#1a1a1a" stroke="#1a1a1a" stroke-width="0.42">Curing</text>
<polygon points="392.4,273.2 433.6,273.2 462.8,302.4 462.8,343.6 433.6,372.8 392.4,372.8 363.2,343.6 363.2,302.4" fill="url(#gB)" stroke="#0b3688" stroke-width="1.8" stroke-linejoin="miter"/>
<text transform="translate(412.7 320.1) scale(0.850 1)" text-anchor="middle" font-size="13.0" fill="#1a1a1a" stroke="#1a1a1a" stroke-width="0.42">Easy-peeling,</text><text transform="translate(412.7 334.1) scale(0.850 1)" text-anchor="middle" font-size="13.0" fill="#1a1a1a" stroke="#1a1a1a" stroke-width="0.42">Easy-reassembly</text>
<polygon points="189.9,393.6 231.1,393.6 260.3,422.8 260.3,464.0 231.1,493.2 189.9,493.2 160.7,464.0 160.7,422.8" fill="url(#gB)" stroke="#0b3688" stroke-width="1.8" stroke-linejoin="miter"/>
<text transform="translate(210.0 438.9) scale(0.850 1)" text-anchor="middle" font-size="17.5" fill="#1a1a1a" stroke="#1a1a1a" stroke-width="0.42">For</text><text transform="translate(210.0 458.1) scale(0.850 1)" text-anchor="middle" font-size="17.5" fill="#1a1a1a" stroke="#1a1a1a" stroke-width="0.42">Optical Use</text>
<polygon points="152.0,516.5 193.2,516.5 222.4,545.7 222.4,586.9 193.2,616.1 152.0,616.1 122.8,586.9 122.8,545.7" fill="url(#gB)" stroke="#0b3688" stroke-width="1.8" stroke-linejoin="miter"/>
<text transform="translate(174.3 574.6) scale(0.850 1)" text-anchor="middle" font-size="18.5" fill="#1a1a1a" stroke="#1a1a1a" stroke-width="0.42">Recycle</text>
<polygon points="251.5,557.8 292.7,557.8 321.9,587.0 321.9,628.2 292.7,657.4 251.5,657.4 222.3,628.2 222.3,587.0" fill="url(#gB)" stroke="#0b3688" stroke-width="1.8" stroke-linejoin="miter"/>
<text transform="translate(274.0 607.2) scale(0.850 1)" text-anchor="middle" font-size="13.5" fill="#1a1a1a" stroke="#1a1a1a" stroke-width="0.42">UV, Emulsion,</text><text transform="translate(274.0 621.3) scale(0.850 1)" text-anchor="middle" font-size="13.5" fill="#1a1a1a" stroke="#1a1a1a" stroke-width="0.42">Hotmelt</text>
<polygon points="223.0,467.7 264.2,467.7 293.4,496.9 293.4,538.1 264.2,567.3 223.0,567.3 193.8,538.1 193.8,496.9" fill="url(#gB)" stroke="#0b3688" stroke-width="1.8" stroke-linejoin="miter"/>
<text transform="translate(245.3 510.5) scale(0.850 1)" text-anchor="middle" font-size="16.0" fill="#1a1a1a" stroke="#1a1a1a" stroke-width="0.42">Coating in</text><text transform="translate(245.3 527.4) scale(0.850 1)" text-anchor="middle" font-size="16.0" fill="#1a1a1a" stroke="#1a1a1a" stroke-width="0.42">Clean</text><text transform="translate(245.3 544.3) scale(0.850 1)" text-anchor="middle" font-size="16.0" fill="#1a1a1a" stroke="#1a1a1a" stroke-width="0.42">Room</text>
<polygon points="615.1,368.4 739.3,368.4 827.2,456.3 827.2,580.5 739.3,668.4 615.1,668.4 527.2,580.5 527.2,456.3" fill="#ffffff"/>
<g filter="url(#sh)" opacity="0.6">
<polygon points="497.8,386.7 555.3,386.7 595.9,427.3 595.9,484.7 555.3,525.3 497.8,525.3 457.3,484.7 457.3,427.3" fill="#000" transform="translate(1.5 5)"/>
<polygon points="497.8,511.5 555.3,511.5 595.9,552.1 595.9,609.5 555.3,650.1 497.8,650.1 457.3,609.5 457.3,552.1" fill="#000" transform="translate(1.5 5)"/>
<polygon points="586.1,298.5 643.5,298.5 684.1,339.0 684.1,396.5 643.5,437.1 586.1,437.1 545.5,396.5 545.5,339.0" fill="#000" transform="translate(1.5 5)"/>
<polygon points="710.9,298.5 768.3,298.5 808.9,339.0 808.9,396.5 768.3,437.1 710.9,437.1 670.3,396.5 670.3,339.0" fill="#000" transform="translate(1.5 5)"/>
<polygon points="799.1,386.7 856.6,386.7 897.1,427.3 897.1,484.7 856.6,525.3 799.1,525.3 758.5,484.7 758.5,427.3" fill="#000" transform="translate(1.5 5)"/>
<polygon points="799.1,511.5 856.6,511.5 897.1,552.1 897.1,609.5 856.6,650.1 799.1,650.1 758.5,609.5 758.5,552.1" fill="#000" transform="translate(1.5 5)"/>
<polygon points="586.1,599.7 643.5,599.7 684.1,640.3 684.1,697.8 643.5,738.3 586.1,738.3 545.5,697.8 545.5,640.3" fill="#000" transform="translate(1.5 5)"/>
<polygon points="710.9,599.7 768.3,599.7 808.9,640.3 808.9,697.8 768.3,738.3 710.9,738.3 670.3,697.8 670.3,640.3" fill="#000" transform="translate(1.5 5)"/>
</g>
<polygon points="502.3,397.5 550.8,397.5 585.1,431.8 585.1,480.2 550.8,514.5 502.3,514.5 468.1,480.2 468.1,431.8" fill="#1c479a"/>
<polygon points="550.8,397.5 550.8,514.5 468.1,480.2" fill="#000a62" fill-opacity="0.42"/>
<polygon points="502.3,397.5 585.1,431.8 550.8,514.5" fill="#000a62" fill-opacity="0.42"/>
<polygon points="468.1,431.8 585.1,480.2 502.3,514.5" fill="#000a62" fill-opacity="0.42"/>
<polygon points="468.1,431.8 550.8,397.5 585.1,480.2" fill="#000a62" fill-opacity="0.42"/>
<polygon points="502.3,397.5 585.1,480.2 502.3,514.5" fill="#000a62" fill-opacity="0.42"/>
<polygon points="502.3,522.3 550.8,522.3 585.1,556.6 585.1,605.0 550.8,639.3 502.3,639.3 468.1,605.0 468.1,556.6" fill="#472780"/>
<polygon points="550.8,522.3 550.8,639.3 468.1,605.0" fill="#120046" fill-opacity="0.42"/>
<polygon points="502.3,522.3 585.1,556.6 550.8,639.3" fill="#120046" fill-opacity="0.42"/>
<polygon points="468.1,556.6 585.1,605.0 502.3,639.3" fill="#120046" fill-opacity="0.42"/>
<polygon points="468.1,556.6 550.8,522.3 585.1,605.0" fill="#120046" fill-opacity="0.42"/>
<polygon points="502.3,522.3 585.1,605.0 502.3,639.3" fill="#120046" fill-opacity="0.42"/>
<polygon points="590.6,309.3 639.0,309.3 673.3,343.5 673.3,392.0 639.0,426.3 590.6,426.3 556.3,392.0 556.3,343.5" fill="#ab7238"/>
<polygon points="590.6,309.3 673.3,392.0 590.6,426.3" fill="#831a00" fill-opacity="0.42"/>
<polygon points="556.3,343.5 639.0,309.3 673.3,392.0" fill="#831a00" fill-opacity="0.42"/>
<polygon points="590.6,309.3 639.0,426.3 556.3,392.0" fill="#831a00" fill-opacity="0.42"/>
<polygon points="673.3,343.5 590.6,426.3 556.3,343.5" fill="#831a00" fill-opacity="0.42"/>
<polygon points="639.0,309.3 639.0,426.3 556.3,392.0" fill="#831a00" fill-opacity="0.42"/>
<polygon points="715.4,309.3 763.8,309.3 798.1,343.5 798.1,392.0 763.8,426.3 715.4,426.3 681.1,392.0 681.1,343.5" fill="#3f7432"/>
<polygon points="715.4,309.3 798.1,392.0 715.4,426.3" fill="#063a04" fill-opacity="0.42"/>
<polygon points="681.1,343.5 763.8,309.3 798.1,392.0" fill="#063a04" fill-opacity="0.42"/>
<polygon points="715.4,309.3 763.8,426.3 681.1,392.0" fill="#063a04" fill-opacity="0.42"/>
<polygon points="798.1,343.5 715.4,426.3 681.1,343.5" fill="#063a04" fill-opacity="0.42"/>
<polygon points="763.8,309.3 763.8,426.3 681.1,392.0" fill="#063a04" fill-opacity="0.42"/>
<polygon points="803.6,397.5 852.1,397.5 886.3,431.8 886.3,480.2 852.1,514.5 803.6,514.5 769.3,480.2 769.3,431.8" fill="#a23633"/>
<polygon points="852.1,397.5 852.1,514.5 769.3,480.2" fill="#7e0808" fill-opacity="0.42"/>
<polygon points="803.6,397.5 886.3,431.8 852.1,514.5" fill="#7e0808" fill-opacity="0.42"/>
<polygon points="769.3,431.8 886.3,480.2 803.6,514.5" fill="#7e0808" fill-opacity="0.42"/>
<polygon points="769.3,431.8 852.1,397.5 886.3,480.2" fill="#7e0808" fill-opacity="0.42"/>
<polygon points="803.6,397.5 886.3,480.2 803.6,514.5" fill="#7e0808" fill-opacity="0.42"/>
<polygon points="803.6,522.3 852.1,522.3 886.3,556.6 886.3,605.0 852.1,639.3 803.6,639.3 769.3,605.0 769.3,556.6" fill="#b18b2c"/>
<polygon points="803.6,522.3 886.3,605.0 803.6,639.3" fill="#9a5204" fill-opacity="0.42"/>
<polygon points="769.3,556.6 852.1,522.3 886.3,605.0" fill="#9a5204" fill-opacity="0.42"/>
<polygon points="803.6,522.3 852.1,639.3 769.3,605.0" fill="#9a5204" fill-opacity="0.42"/>
<polygon points="886.3,556.6 803.6,639.3 769.3,556.6" fill="#9a5204" fill-opacity="0.42"/>
<polygon points="852.1,522.3 852.1,639.3 769.3,605.0" fill="#9a5204" fill-opacity="0.42"/>
<polygon points="590.6,610.5 639.0,610.5 673.3,644.8 673.3,693.3 639.0,727.5 590.6,727.5 556.3,693.3 556.3,644.8" fill="#155a3d"/>
<polygon points="639.0,610.5 639.0,727.5 556.3,693.3" fill="#01240d" fill-opacity="0.42"/>
<polygon points="590.6,610.5 673.3,644.8 639.0,727.5" fill="#01240d" fill-opacity="0.42"/>
<polygon points="556.3,644.8 673.3,693.3 590.6,727.5" fill="#01240d" fill-opacity="0.42"/>
<polygon points="556.3,644.8 639.0,610.5 673.3,693.3" fill="#01240d" fill-opacity="0.42"/>
<polygon points="590.6,610.5 673.3,693.3 590.6,727.5" fill="#01240d" fill-opacity="0.42"/>
<polygon points="715.4,610.5 763.8,610.5 798.1,644.8 798.1,693.3 763.8,727.5 715.4,727.5 681.1,693.3 681.1,644.8" fill="#70c6f9"/>
<polygon points="763.8,610.5 763.8,727.5 681.1,693.3" fill="#0354e2" fill-opacity="0.42"/>
<polygon points="715.4,610.5 798.1,644.8 763.8,727.5" fill="#0354e2" fill-opacity="0.42"/>
<polygon points="681.1,644.8 798.1,693.3 715.4,727.5" fill="#0354e2" fill-opacity="0.42"/>
<polygon points="681.1,644.8 763.8,610.5 798.1,693.3" fill="#0354e2" fill-opacity="0.42"/>
<polygon points="715.4,610.5 798.1,693.3 715.4,727.5" fill="#0354e2" fill-opacity="0.42"/>
<polygon points="500.7,393.6 552.4,393.6 589.0,430.2 589.0,481.8 552.4,518.4 500.7,518.4 464.2,481.8 464.2,430.2" fill="none" stroke="#8a8a8a" stroke-width="7.8"/>
<polygon points="500.7,518.4 552.4,518.4 589.0,555.0 589.0,606.6 552.4,643.2 500.7,643.2 464.2,606.6 464.2,555.0" fill="none" stroke="#8a8a8a" stroke-width="7.8"/>
<polygon points="589.0,305.4 640.6,305.4 677.2,341.9 677.2,393.6 640.6,430.2 589.0,430.2 552.4,393.6 552.4,341.9" fill="none" stroke="#8a8a8a" stroke-width="7.8"/>
<polygon points="713.8,305.4 765.4,305.4 802.0,341.9 802.0,393.6 765.4,430.2 713.8,430.2 677.2,393.6 677.2,341.9" fill="none" stroke="#8a8a8a" stroke-width="7.8"/>
<polygon points="802.0,393.6 853.7,393.6 890.2,430.2 890.2,481.8 853.7,518.4 802.0,518.4 765.4,481.8 765.4,430.2" fill="none" stroke="#8a8a8a" stroke-width="7.8"/>
<polygon points="802.0,518.4 853.7,518.4 890.2,555.0 890.2,606.6 853.7,643.2 802.0,643.2 765.4,606.6 765.4,555.0" fill="none" stroke="#8a8a8a" stroke-width="7.8"/>
<polygon points="589.0,606.6 640.6,606.6 677.2,643.2 677.2,694.9 640.6,731.4 589.0,731.4 552.4,694.9 552.4,643.2" fill="none" stroke="#8a8a8a" stroke-width="7.8"/>
<polygon points="713.8,606.6 765.4,606.6 802.0,643.2 802.0,694.9 765.4,731.4 713.8,731.4 677.2,694.9 677.2,643.2" fill="none" stroke="#ffffff" stroke-width="8.2"/>
<text transform="translate(614.7 365.9) scale(1.010 1)" text-anchor="middle" font-size="23.0" fill="#9b9b9b" stroke="#9b9b9b" stroke-width="1.0" style="font-weight:normal">Optical</text><text transform="translate(614.7 388.7) scale(1.010 1)" text-anchor="middle" font-size="23.0" fill="#9b9b9b" stroke="#9b9b9b" stroke-width="1.0" style="font-weight:normal">Design</text>
<text transform="translate(739.8 362.4) scale(0.975 1)" text-anchor="middle" font-size="23.0" fill="#9b9b9b" stroke="#9b9b9b" stroke-width="1.0" style="font-weight:normal">Circuit</text><text transform="translate(739.8 383.9) scale(0.975 1)" text-anchor="middle" font-size="23.0" fill="#9b9b9b" stroke="#9b9b9b" stroke-width="1.0" style="font-weight:normal">Formation</text>
<text transform="translate(828.3 454.0) scale(0.975 1)" text-anchor="middle" font-size="23.0" fill="#9b9b9b" stroke="#9b9b9b" stroke-width="1.0" style="font-weight:normal">Thin Layer</text><text transform="translate(828.3 475.8) scale(0.975 1)" text-anchor="middle" font-size="23.0" fill="#9b9b9b" stroke="#9b9b9b" stroke-width="1.0" style="font-weight:normal">Formation</text>
<text transform="translate(827.4 576.6) scale(0.975 1)" text-anchor="middle" font-size="23.0" fill="#9b9b9b" stroke="#9b9b9b" stroke-width="1.0" style="font-weight:normal">Porous</text><text transform="translate(827.4 598.4) scale(0.975 1)" text-anchor="middle" font-size="23.0" fill="#9b9b9b" stroke="#9b9b9b" stroke-width="1.0" style="font-weight:normal">Formation</text>
<text transform="translate(738.8 678.0) scale(0.975 1)" text-anchor="middle" font-size="23.0" fill="#ffffff" stroke="#ffffff" stroke-width="1.0" style="font-weight:normal">Separation</text>
<text transform="translate(613.9 669.5) scale(0.800 1)" text-anchor="middle" font-size="19.0" fill="#9b9b9b" stroke="#9b9b9b" stroke-width="1.0" style="font-weight:normal">Oligonucleotide</text><text transform="translate(613.9 688.6) scale(0.800 1)" text-anchor="middle" font-size="19.0" fill="#9b9b9b" stroke="#9b9b9b" stroke-width="1.0" style="font-weight:normal">synthesis</text>
<text transform="translate(527.2 564.3) scale(0.975 1)" text-anchor="middle" font-size="23.0" fill="#9b9b9b" stroke="#9b9b9b" stroke-width="1.0" style="font-weight:normal">DDS:</text>
<text transform="translate(525.4 585.8) scale(0.950 1)" text-anchor="middle" font-size="14.5" fill="#9b9b9b" stroke="#9b9b9b" stroke-width="1.0" style="font-weight:normal">Drug</text><text transform="translate(525.4 600.8) scale(0.950 1)" text-anchor="middle" font-size="14.5" fill="#9b9b9b" stroke="#9b9b9b" stroke-width="1.0" style="font-weight:normal">Delivery</text><text transform="translate(525.4 615.8) scale(0.950 1)" text-anchor="middle" font-size="14.5" fill="#9b9b9b" stroke="#9b9b9b" stroke-width="1.0" style="font-weight:normal">System</text>
<text transform="translate(525.4 464.4) scale(0.975 1)" text-anchor="middle" font-size="23.0" fill="#9b9b9b" stroke="#9b9b9b" stroke-width="1.0" style="font-weight:normal">Adhesion</text>
</svg></body></html>
